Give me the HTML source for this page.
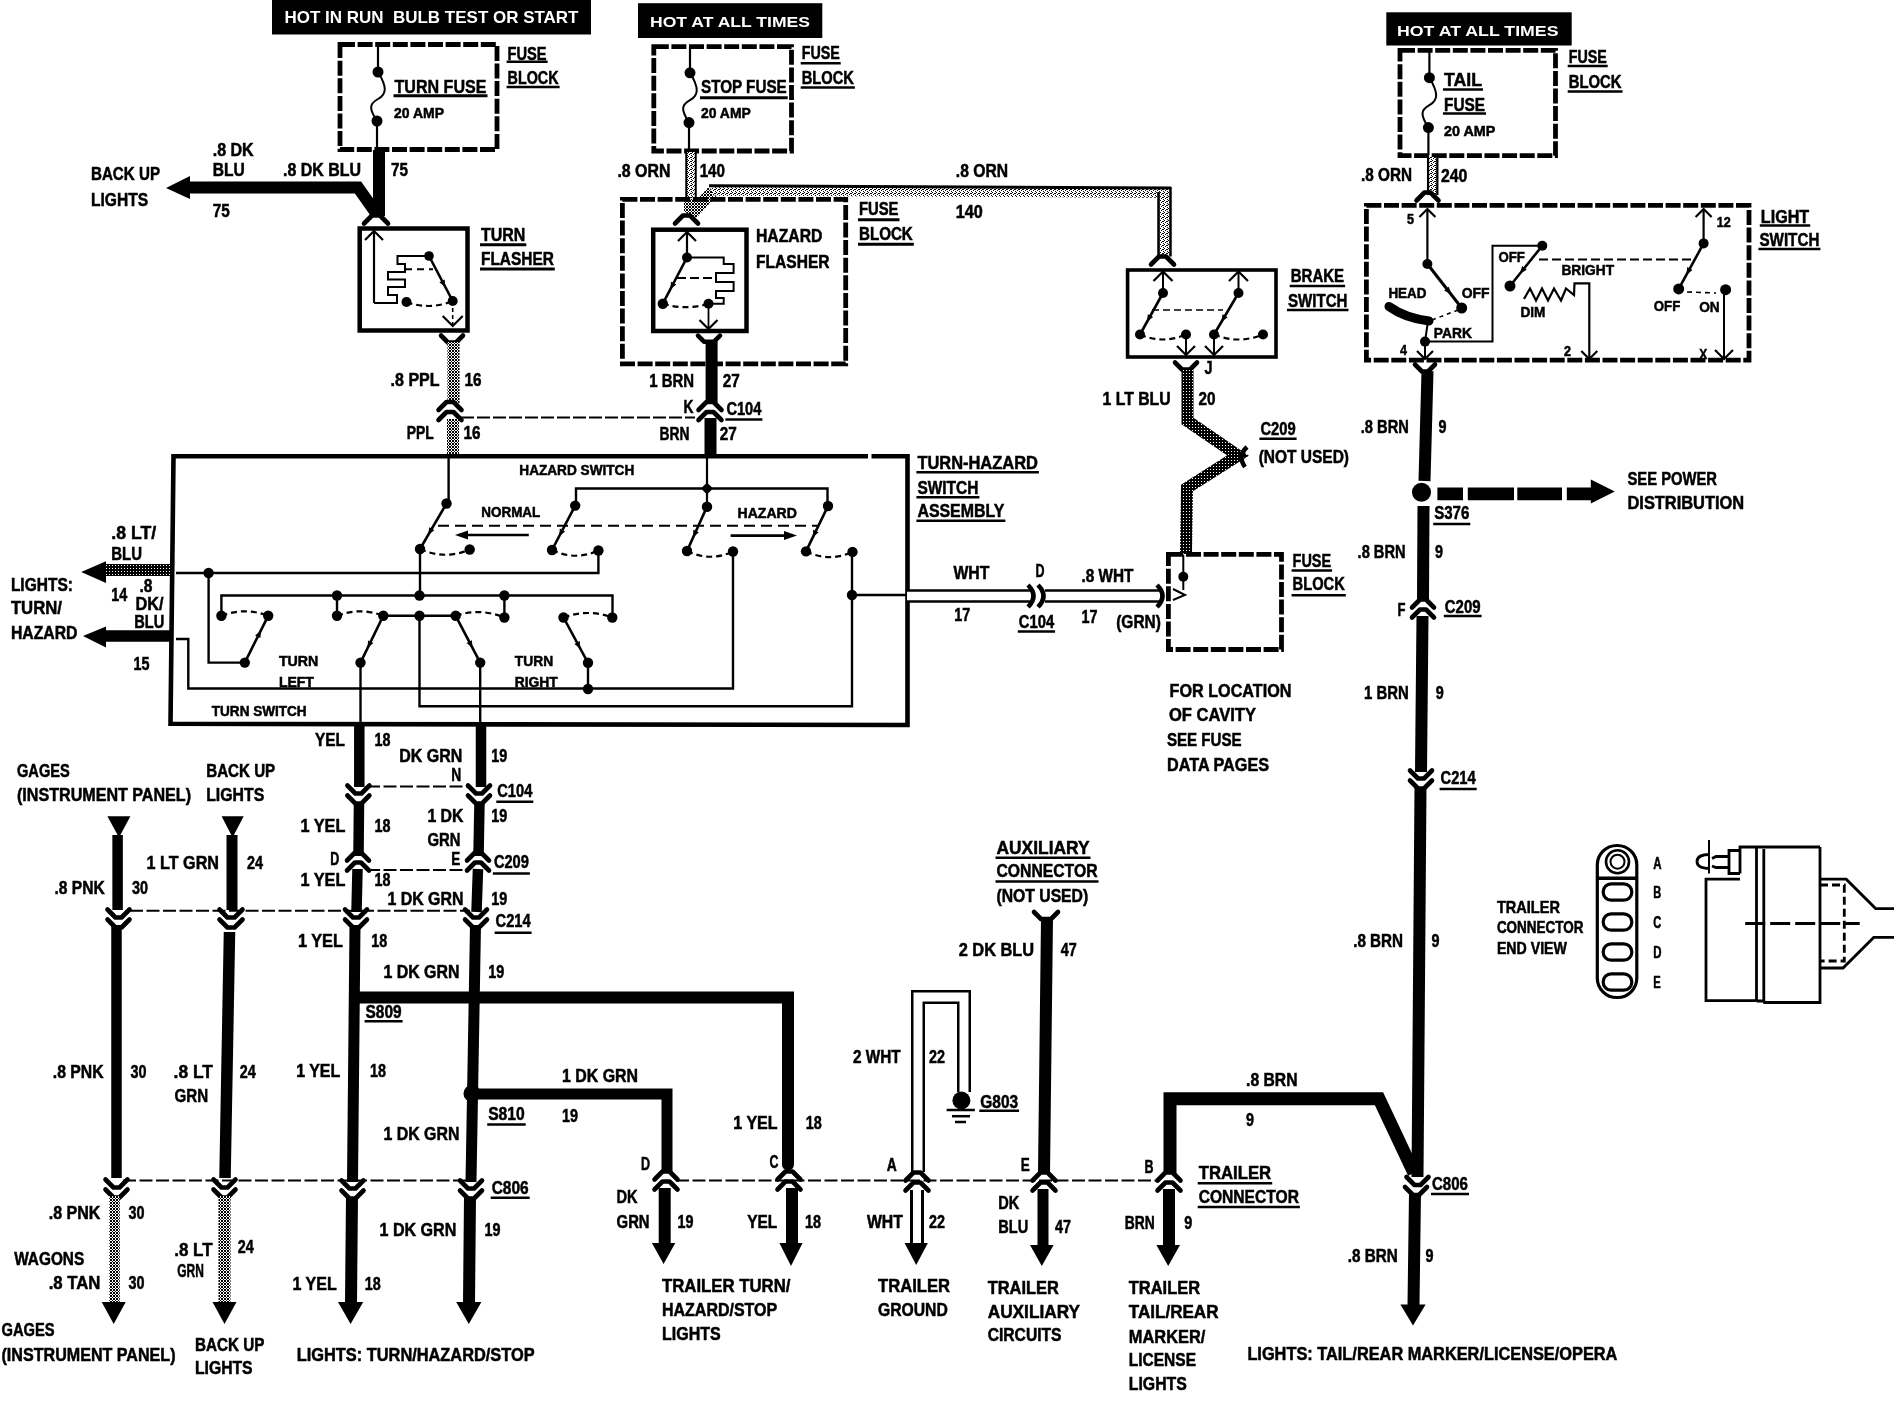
<!DOCTYPE html>
<html><head><meta charset="utf-8"><style>
html,body{margin:0;padding:0;background:#fff;}
svg{display:block;}
text{font-family:"Liberation Sans",sans-serif;font-weight:bold;}
</style></head><body>
<svg style="will-change:transform" width="1896" height="1408" viewBox="0 0 1896 1408">
<defs>
<pattern id="st" width="3" height="3" patternUnits="userSpaceOnUse">
<rect x="0" y="0" width="3" height="3" fill="#fff"/>
<rect x="0" y="0" width="1" height="1" fill="#000"/><rect x="2" y="0" width="1" height="1" fill="#000"/>
<rect x="1" y="1" width="1" height="1" fill="#000"/><rect x="0" y="2" width="1" height="1" fill="#000"/>
<rect x="2" y="2" width="1" height="1" fill="#000"/>
</pattern>
<pattern id="sd" width="3" height="3" patternUnits="userSpaceOnUse">
<rect x="0" y="0" width="3" height="3" fill="#000"/><rect x="1" y="1" width="1" height="1" fill="#fff"/>
</pattern>
<pattern id="sl" width="4" height="4" patternUnits="userSpaceOnUse">
<rect x="0" y="0" width="4" height="4" fill="#fff"/>
<rect x="0" y="0" width="1" height="1" fill="#000"/><rect x="2" y="1" width="1" height="1" fill="#000"/>
<rect x="1" y="2" width="1" height="1" fill="#000"/><rect x="3" y="3" width="1" height="1" fill="#000"/>
<rect x="3" y="1" width="1" height="1" fill="#000"/>
</pattern>
</defs>
<rect width="1896" height="1408" fill="#fff"/>
<rect x="272.0" y="0.0" width="319.0" height="34.5" fill="#000"/>
<text x="284.5" y="23.2" font-size="15.99" textLength="294.0" lengthAdjust="spacingAndGlyphs" fill="#fff" stroke="#fff" stroke-width="0">HOT IN RUN  BULB TEST OR START</text>
<rect x="340.0" y="44.5" width="157.0" height="105.0" fill="none" stroke="#000" stroke-width="4.8" stroke-dasharray="15 2.6"/>
<line x1="378.0" y1="46.0" x2="378.0" y2="72.0" stroke="#000" stroke-width="2.2" stroke-linecap="butt"/>
<circle cx="378.0" cy="72.0" r="5.5" fill="#000"/>
<path d="M378.0,72.0 C387.0,86.7 387.0,94.0 378.0,99.0 S369.0,108.8 377.0,121.0" fill="none" stroke="#000" stroke-width="2" stroke-linecap="butt"/>
<circle cx="377.0" cy="121.0" r="5.5" fill="#000"/>
<line x1="377.0" y1="121.0" x2="377.0" y2="150.0" stroke="#000" stroke-width="2.2" stroke-linecap="butt"/>
<text x="394.5" y="93.0" font-size="18.90" textLength="92.0" lengthAdjust="spacingAndGlyphs" fill="#000" stroke="#000" stroke-width="0.5">TURN FUSE</text>
<line x1="393.5" y1="95.7" x2="487.5" y2="95.7" stroke="#000" stroke-width="3"/>
<text x="394.0" y="117.5" font-size="14.53" textLength="50.0" lengthAdjust="spacingAndGlyphs" fill="#000" stroke="#000" stroke-width="0.5">20 AMP</text>
<text x="507.6" y="59.7" font-size="17.44" textLength="39.0" lengthAdjust="spacingAndGlyphs" fill="#000" stroke="#000" stroke-width="0.5">FUSE</text>
<line x1="506.6" y1="61.8" x2="547.6" y2="61.8" stroke="#000" stroke-width="2.5"/>
<text x="507.6" y="83.5" font-size="17.44" textLength="51.0" lengthAdjust="spacingAndGlyphs" fill="#000" stroke="#000" stroke-width="0.5">BLOCK</text>
<line x1="506.6" y1="87.0" x2="559.6" y2="87.0" stroke="#000" stroke-width="2.5"/>
<polyline points="379.0,150.0 379.0,216.0" fill="none" stroke="#000" stroke-width="12" stroke-linejoin="miter" stroke-linecap="butt"/>
<polyline points="189.0,187.5 358.0,187.5 376.0,213.0" fill="none" stroke="#000" stroke-width="12" stroke-linejoin="miter" stroke-linecap="butt"/>
<polygon points="166.0,188.0 190.0,176.0 190.0,199.0" fill="#000"/>
<text x="91.0" y="180.2" font-size="18.31" textLength="69.0" lengthAdjust="spacingAndGlyphs" fill="#000" stroke="#000" stroke-width="0.5">BACK UP</text>
<text x="91.0" y="205.6" font-size="18.31" textLength="57.0" lengthAdjust="spacingAndGlyphs" fill="#000" stroke="#000" stroke-width="0.5">LIGHTS</text>
<text x="212.7" y="155.7" font-size="17.44" textLength="41.0" lengthAdjust="spacingAndGlyphs" fill="#000" stroke="#000" stroke-width="0.5">.8 DK</text>
<text x="212.7" y="175.5" font-size="17.44" textLength="32.0" lengthAdjust="spacingAndGlyphs" fill="#000" stroke="#000" stroke-width="0.5">BLU</text>
<text x="212.7" y="217.2" font-size="17.44" textLength="17.0" lengthAdjust="spacingAndGlyphs" fill="#000" stroke="#000" stroke-width="0.5">75</text>
<text x="283.0" y="176.0" font-size="17.44" textLength="78.0" lengthAdjust="spacingAndGlyphs" fill="#000" stroke="#000" stroke-width="0.5">.8 DK BLU</text>
<text x="391.0" y="176.0" font-size="17.44" textLength="17.0" lengthAdjust="spacingAndGlyphs" fill="#000" stroke="#000" stroke-width="0.5">75</text>
<polyline points="364.0,223.5 372.0,215.5 380.0,215.5 388.0,223.5" fill="none" stroke="#000" stroke-width="4.6" stroke-linejoin="round" stroke-linecap="round"/>
<rect x="359.7" y="228.5" width="107.8" height="102.0" fill="none" stroke="#000" stroke-width="4.5"/>
<line x1="374.0" y1="303.0" x2="374.0" y2="231.0" stroke="#000" stroke-width="2.2" stroke-linecap="butt"/>
<polyline points="365.0,240.0 374.0,231.0 383.0,240.0" fill="none" stroke="#000" stroke-width="2.2" stroke-linejoin="miter" stroke-linecap="butt"/>
<polyline points="374.0,303.0 397.0,303.0 397.0,295.0 388.0,295.0 388.0,287.0 405.0,287.0 405.0,279.5 388.0,279.5 388.0,272.0 405.0,272.0 405.0,264.0 397.5,264.0 397.5,256.0 429.0,256.0" fill="none" stroke="#000" stroke-width="2" stroke-linejoin="miter" stroke-linecap="butt"/>
<circle cx="429.0" cy="256.0" r="4.8" fill="#000"/>
<line x1="429.0" y1="256.0" x2="452.7" y2="301.0" stroke="#000" stroke-width="2.6" stroke-linecap="butt"/>
<polygon points="445.3,287.0 439.4,282.2 444.7,279.4" fill="#000"/>
<circle cx="452.7" cy="301.0" r="5" fill="#000"/>
<circle cx="406.5" cy="302.0" r="5" fill="#000"/>
<path d="M406.5,302.0 Q429.6,310.5 452.7,301.0" fill="none" stroke="#000" stroke-width="2.2" stroke-linecap="butt" stroke-dasharray="6 4"/>
<line x1="405.0" y1="269.2" x2="433.0" y2="269.2" stroke="#000" stroke-width="2" stroke-linecap="butt" stroke-dasharray="7 5"/>
<line x1="452.7" y1="301.0" x2="452.7" y2="326.0" stroke="#000" stroke-width="1.6" stroke-linecap="butt" stroke-dasharray="4 3"/>
<polyline points="442.7,316.0 452.7,326.0 462.7,316.0" fill="none" stroke="#000" stroke-width="2.2" stroke-linejoin="miter" stroke-linecap="butt"/>
<text x="481.0" y="241.2" font-size="17.44" textLength="44.3" lengthAdjust="spacingAndGlyphs" fill="#000" stroke="#000" stroke-width="0.5">TURN</text>
<line x1="480.0" y1="244.8" x2="526.3" y2="244.8" stroke="#000" stroke-width="3"/>
<text x="481.0" y="265.2" font-size="17.44" textLength="72.8" lengthAdjust="spacingAndGlyphs" fill="#000" stroke="#000" stroke-width="0.5">FLASHER</text>
<line x1="480.0" y1="269.0" x2="554.8" y2="269.0" stroke="#000" stroke-width="3"/>
<polyline points="441.0,335.5 448.0,342.5 456.0,342.5 463.0,335.5" fill="none" stroke="#000" stroke-width="4.6" stroke-linejoin="round" stroke-linecap="round"/>
<polyline points="453.5,342.0 453.5,404.0" fill="none" stroke="url(#st)" stroke-width="12" stroke-linejoin="miter" stroke-linecap="butt"/>
<polyline points="438.5,410.0 446.5,402.0 453.5,402.0 461.5,410.0" fill="none" stroke="#000" stroke-width="4.6" stroke-linejoin="round" stroke-linecap="round"/>
<polyline points="438.5,420.0 446.5,412.0 453.5,412.0 461.5,420.0" fill="none" stroke="#000" stroke-width="4.6" stroke-linejoin="round" stroke-linecap="round"/>
<polyline points="453.0,419.0 453.0,455.0" fill="none" stroke="url(#st)" stroke-width="12" stroke-linejoin="miter" stroke-linecap="butt"/>
<text x="390.6" y="385.5" font-size="17.44" textLength="49.0" lengthAdjust="spacingAndGlyphs" fill="#000" stroke="#000" stroke-width="0.5">.8 PPL</text>
<text x="464.4" y="385.5" font-size="17.44" textLength="17.0" lengthAdjust="spacingAndGlyphs" fill="#000" stroke="#000" stroke-width="0.5">16</text>
<text x="406.8" y="439.2" font-size="17.44" textLength="27.0" lengthAdjust="spacingAndGlyphs" fill="#000" stroke="#000" stroke-width="0.5">PPL</text>
<text x="463.4" y="439.2" font-size="17.44" textLength="17.0" lengthAdjust="spacingAndGlyphs" fill="#000" stroke="#000" stroke-width="0.5">16</text>
<line x1="461.0" y1="417.6" x2="695.0" y2="417.6" stroke="#000" stroke-width="2" stroke-linecap="butt" stroke-dasharray="13 3"/>
<rect x="638.0" y="3.2" width="184.3" height="34.8" fill="#000"/>
<text x="650.0" y="26.5" font-size="14.97" textLength="160.0" lengthAdjust="spacingAndGlyphs" fill="#fff" stroke="#fff" stroke-width="0">HOT AT ALL TIMES</text>
<rect x="653.8" y="46.7" width="137.7" height="104.3" fill="none" stroke="#000" stroke-width="4.8" stroke-dasharray="15 2.6"/>
<line x1="690.0" y1="47.0" x2="690.0" y2="72.8" stroke="#000" stroke-width="2.2" stroke-linecap="butt"/>
<circle cx="690.0" cy="72.8" r="5.5" fill="#000"/>
<path d="M690.0,72.8 C699.0,87.7 699.0,95.2 690.0,100.2 S681.0,110.1 689.0,122.6" fill="none" stroke="#000" stroke-width="2" stroke-linecap="butt"/>
<circle cx="689.0" cy="122.6" r="5.5" fill="#000"/>
<line x1="689.0" y1="122.6" x2="689.0" y2="151.0" stroke="#000" stroke-width="2.2" stroke-linecap="butt"/>
<text x="701.0" y="93.0" font-size="18.90" textLength="85.7" lengthAdjust="spacingAndGlyphs" fill="#000" stroke="#000" stroke-width="0.5">STOP FUSE</text>
<line x1="700.0" y1="97.8" x2="787.7" y2="97.8" stroke="#000" stroke-width="3"/>
<text x="701.0" y="117.5" font-size="14.53" textLength="49.8" lengthAdjust="spacingAndGlyphs" fill="#000" stroke="#000" stroke-width="0.5">20 AMP</text>
<text x="801.7" y="59.4" font-size="17.44" textLength="38.0" lengthAdjust="spacingAndGlyphs" fill="#000" stroke="#000" stroke-width="0.5">FUSE</text>
<line x1="800.7" y1="63.3" x2="840.7" y2="63.3" stroke="#000" stroke-width="2.5"/>
<text x="801.7" y="84.2" font-size="17.44" textLength="52.2" lengthAdjust="spacingAndGlyphs" fill="#000" stroke="#000" stroke-width="0.5">BLOCK</text>
<line x1="800.7" y1="87.5" x2="854.9" y2="87.5" stroke="#000" stroke-width="2.5"/>
<text x="617.4" y="176.8" font-size="17.44" textLength="53.0" lengthAdjust="spacingAndGlyphs" fill="#000" stroke="#000" stroke-width="0.5">.8 ORN</text>
<text x="699.7" y="176.8" font-size="17.44" textLength="25.3" lengthAdjust="spacingAndGlyphs" fill="#000" stroke="#000" stroke-width="0.5">140</text>
<polyline points="691.0,152.0 691.0,200.0" fill="none" stroke="#000" stroke-width="11.5" stroke-linejoin="miter" stroke-linecap="butt"/>
<polyline points="691.0,152.0 691.0,200.0" fill="none" stroke="url(#sl)" stroke-width="7.5" stroke-linejoin="miter" stroke-linecap="butt"/>
<polyline points="690.0,200.0 690.0,212.0" fill="none" stroke="url(#st)" stroke-width="12" stroke-linejoin="miter" stroke-linecap="butt"/>
<polyline points="690.0,216.0 713.0,191.0" fill="none" stroke="url(#st)" stroke-width="12" stroke-linejoin="miter" stroke-linecap="butt"/>
<polyline points="712.0,190.5 1164.5,192.5 1164.5,256.0" fill="none" stroke="url(#sl)" stroke-width="10.5" stroke-linejoin="miter" stroke-linecap="butt"/>
<polyline points="709.0,185.7 1171.0,188.0" fill="none" stroke="#000" stroke-width="3" stroke-linejoin="miter" stroke-linecap="butt"/>
<line x1="1158.5" y1="192.0" x2="1158.5" y2="256.5" stroke="#000" stroke-width="2.5" stroke-linecap="butt"/>
<line x1="1170.5" y1="187.0" x2="1170.5" y2="256.5" stroke="#000" stroke-width="2.5" stroke-linecap="butt"/>
<text x="955.8" y="176.7" font-size="17.44" textLength="52.2" lengthAdjust="spacingAndGlyphs" fill="#000" stroke="#000" stroke-width="0.5">.8 ORN</text>
<text x="955.8" y="217.9" font-size="17.44" textLength="27.0" lengthAdjust="spacingAndGlyphs" fill="#000" stroke="#000" stroke-width="0.5">140</text>
<rect x="622.4" y="199.4" width="223.3" height="164.4" fill="none" stroke="#000" stroke-width="4.8" stroke-dasharray="15 2.6"/>
<text x="859.0" y="215.2" font-size="17.44" textLength="39.5" lengthAdjust="spacingAndGlyphs" fill="#000" stroke="#000" stroke-width="0.5">FUSE</text>
<line x1="858.0" y1="219.8" x2="899.5" y2="219.8" stroke="#000" stroke-width="3"/>
<text x="859.0" y="239.5" font-size="17.44" textLength="53.8" lengthAdjust="spacingAndGlyphs" fill="#000" stroke="#000" stroke-width="0.5">BLOCK</text>
<line x1="858.0" y1="244.2" x2="913.8" y2="244.2" stroke="#000" stroke-width="3"/>
<polyline points="675.0,223.5 683.0,215.5 690.0,215.5 698.0,223.5" fill="none" stroke="#000" stroke-width="4.6" stroke-linejoin="round" stroke-linecap="round"/>
<rect x="653.2" y="229.7" width="93.3" height="101.3" fill="none" stroke="#000" stroke-width="4.5"/>
<line x1="687.0" y1="257.0" x2="687.0" y2="232.0" stroke="#000" stroke-width="2.2" stroke-linecap="butt"/>
<polyline points="678.0,241.0 687.0,232.0 696.0,241.0" fill="none" stroke="#000" stroke-width="2.2" stroke-linejoin="miter" stroke-linecap="butt"/>
<circle cx="687.0" cy="257.5" r="5" fill="#000"/>
<line x1="687.0" y1="257.5" x2="662.8" y2="303.7" stroke="#000" stroke-width="2.6" stroke-linecap="butt"/>
<polygon points="670.4,289.2 671.0,281.7 676.3,284.4" fill="#000"/>
<circle cx="662.8" cy="303.7" r="5.2" fill="#000"/>
<circle cx="708.5" cy="303.7" r="5" fill="#000"/>
<polyline points="687.0,257.5 723.7,257.5 723.7,264.0 733.6,264.0 733.6,273.0 716.0,273.0 716.0,282.0 733.6,282.0 733.6,291.0 716.0,291.0 716.0,298.0 723.7,298.0 723.7,303.7 708.5,303.7" fill="none" stroke="#000" stroke-width="2" stroke-linejoin="miter" stroke-linecap="butt"/>
<line x1="677.0" y1="278.0" x2="714.8" y2="278.0" stroke="#000" stroke-width="1.8" stroke-linecap="butt" stroke-dasharray="9 4"/>
<path d="M662.8,303.7 Q685.6,310.7 708.5,303.7" fill="none" stroke="#000" stroke-width="2.2" stroke-linecap="butt" stroke-dasharray="6 4"/>
<line x1="708.5" y1="303.7" x2="708.5" y2="329.0" stroke="#000" stroke-width="1.8" stroke-linecap="butt"/>
<polyline points="699.5,320.0 708.5,329.0 717.5,320.0" fill="none" stroke="#000" stroke-width="2.2" stroke-linejoin="miter" stroke-linecap="butt"/>
<text x="756.0" y="242.2" font-size="17.44" textLength="66.4" lengthAdjust="spacingAndGlyphs" fill="#000" stroke="#000" stroke-width="0.5">HAZARD</text>
<text x="756.0" y="268.2" font-size="17.44" textLength="73.5" lengthAdjust="spacingAndGlyphs" fill="#000" stroke="#000" stroke-width="0.5">FLASHER</text>
<polyline points="698.0,335.7 704.0,341.7 714.0,341.7 720.0,335.7" fill="none" stroke="#000" stroke-width="4.6" stroke-linejoin="round" stroke-linecap="round"/>
<polyline points="711.6,340.0 711.6,404.0" fill="none" stroke="#000" stroke-width="12" stroke-linejoin="miter" stroke-linecap="butt"/>
<polyline points="698.5,410.0 706.5,402.0 713.5,402.0 721.5,410.0" fill="none" stroke="#000" stroke-width="4.6" stroke-linejoin="round" stroke-linecap="round"/>
<polyline points="698.5,420.0 706.5,412.0 713.5,412.0 721.5,420.0" fill="none" stroke="#000" stroke-width="4.6" stroke-linejoin="round" stroke-linecap="round"/>
<polyline points="710.5,418.0 710.5,456.0" fill="none" stroke="#000" stroke-width="12" stroke-linejoin="miter" stroke-linecap="butt"/>
<text x="649.3" y="387.4" font-size="17.44" textLength="44.8" lengthAdjust="spacingAndGlyphs" fill="#000" stroke="#000" stroke-width="0.5">1 BRN</text>
<text x="722.8" y="387.4" font-size="17.44" textLength="17.0" lengthAdjust="spacingAndGlyphs" fill="#000" stroke="#000" stroke-width="0.5">27</text>
<text x="683.4" y="412.5" font-size="17.44" textLength="10.0" lengthAdjust="spacingAndGlyphs" fill="#000" stroke="#000" stroke-width="0.5">K</text>
<text x="726.4" y="415.2" font-size="17.44" textLength="35.0" lengthAdjust="spacingAndGlyphs" fill="#000" stroke="#000" stroke-width="0.5">C104</text>
<line x1="725.4" y1="419.4" x2="762.4" y2="419.4" stroke="#000" stroke-width="2.5"/>
<text x="659.6" y="440.4" font-size="17.44" textLength="30.0" lengthAdjust="spacingAndGlyphs" fill="#000" stroke="#000" stroke-width="0.5">BRN</text>
<text x="719.7" y="440.4" font-size="17.44" textLength="17.0" lengthAdjust="spacingAndGlyphs" fill="#000" stroke="#000" stroke-width="0.5">27</text>
<polyline points="1151.0,264.5 1159.0,256.5 1166.0,256.5 1174.0,264.5" fill="none" stroke="#000" stroke-width="4.6" stroke-linejoin="round" stroke-linecap="round"/>
<rect x="1127.6" y="270.0" width="148.4" height="87.0" fill="none" stroke="#000" stroke-width="3.6"/>
<line x1="1163.0" y1="293.0" x2="1163.0" y2="271.5" stroke="#000" stroke-width="2" stroke-linecap="butt"/>
<polyline points="1153.5,281.0 1163.0,271.5 1172.5,281.0" fill="none" stroke="#000" stroke-width="2.2" stroke-linejoin="miter" stroke-linecap="butt"/>
<circle cx="1163.0" cy="293.0" r="5" fill="#000"/>
<line x1="1238.5" y1="293.0" x2="1238.5" y2="271.5" stroke="#000" stroke-width="2" stroke-linecap="butt"/>
<polyline points="1229.0,281.0 1238.5,271.5 1248.0,281.0" fill="none" stroke="#000" stroke-width="2.2" stroke-linejoin="miter" stroke-linecap="butt"/>
<circle cx="1238.5" cy="293.0" r="5" fill="#000"/>
<line x1="1163.0" y1="293.0" x2="1140.0" y2="334.5" stroke="#000" stroke-width="2.6" stroke-linecap="butt"/>
<polygon points="1147.0,321.8 1147.8,314.2 1153.1,317.1" fill="#000"/>
<line x1="1238.5" y1="293.0" x2="1214.0" y2="334.5" stroke="#000" stroke-width="2.6" stroke-linecap="butt"/>
<polygon points="1221.5,321.7 1222.5,314.2 1227.7,317.2" fill="#000"/>
<circle cx="1140.0" cy="334.5" r="5" fill="#000"/>
<circle cx="1186.0" cy="334.5" r="5" fill="#000"/>
<circle cx="1214.0" cy="334.5" r="5" fill="#000"/>
<circle cx="1263.0" cy="334.5" r="5" fill="#000"/>
<path d="M1140.0,334.5 Q1163.0,344.5 1186.0,334.5" fill="none" stroke="#000" stroke-width="2.2" stroke-linecap="butt" stroke-dasharray="6 4"/>
<path d="M1214.0,334.5 Q1238.5,344.5 1263.0,334.5" fill="none" stroke="#000" stroke-width="2.2" stroke-linecap="butt" stroke-dasharray="6 4"/>
<line x1="1152.0" y1="310.0" x2="1223.0" y2="310.0" stroke="#000" stroke-width="1.6" stroke-linecap="butt" stroke-dasharray="7 4"/>
<line x1="1186.0" y1="334.5" x2="1186.0" y2="355.0" stroke="#000" stroke-width="2" stroke-linecap="butt"/>
<polyline points="1177.0,346.0 1186.0,355.0 1195.0,346.0" fill="none" stroke="#000" stroke-width="2.2" stroke-linejoin="miter" stroke-linecap="butt"/>
<line x1="1214.0" y1="334.5" x2="1214.0" y2="355.0" stroke="#000" stroke-width="2" stroke-linecap="butt"/>
<polyline points="1205.0,346.0 1214.0,355.0 1223.0,346.0" fill="none" stroke="#000" stroke-width="2.2" stroke-linejoin="miter" stroke-linecap="butt"/>
<text x="1290.7" y="282.2" font-size="17.44" textLength="53.4" lengthAdjust="spacingAndGlyphs" fill="#000" stroke="#000" stroke-width="0.5">BRAKE</text>
<line x1="1289.7" y1="286.0" x2="1345.1" y2="286.0" stroke="#000" stroke-width="2.5"/>
<text x="1288.0" y="306.5" font-size="17.44" textLength="59.5" lengthAdjust="spacingAndGlyphs" fill="#000" stroke="#000" stroke-width="0.5">SWITCH</text>
<line x1="1287.0" y1="310.0" x2="1348.5" y2="310.0" stroke="#000" stroke-width="2.5"/>
<polyline points="1175.0,362.5 1182.0,369.5 1190.0,369.5 1197.0,362.5" fill="none" stroke="#000" stroke-width="4.6" stroke-linejoin="round" stroke-linecap="round"/>
<text x="1204.6" y="374.2" font-size="17.44" textLength="8.0" lengthAdjust="spacingAndGlyphs" fill="#000" stroke="#000" stroke-width="0.5">J</text>
<polyline points="1187.5,370.0 1187.5,421.0 1238.0,455.5 1187.0,488.0 1186.0,554.0" fill="none" stroke="url(#sd)" stroke-width="12" stroke-linejoin="miter" stroke-linecap="butt"/>
<path d="M1247,447 Q1237,456 1245,467" fill="none" stroke="#000" stroke-width="4.5" stroke-linecap="butt"/>
<text x="1102.6" y="404.8" font-size="17.44" textLength="68.0" lengthAdjust="spacingAndGlyphs" fill="#000" stroke="#000" stroke-width="0.5">1 LT BLU</text>
<text x="1198.5" y="404.8" font-size="17.44" textLength="17.0" lengthAdjust="spacingAndGlyphs" fill="#000" stroke="#000" stroke-width="0.5">20</text>
<text x="1260.4" y="435.2" font-size="17.44" textLength="35.2" lengthAdjust="spacingAndGlyphs" fill="#000" stroke="#000" stroke-width="0.5">C209</text>
<line x1="1259.4" y1="438.8" x2="1296.6" y2="438.8" stroke="#000" stroke-width="2.5"/>
<text x="1258.7" y="463.1" font-size="17.44" textLength="90.3" lengthAdjust="spacingAndGlyphs" fill="#000" stroke="#000" stroke-width="0.5">(NOT USED)</text>
<rect x="1386.3" y="12.3" width="185.4" height="33.2" fill="#000"/>
<text x="1397.0" y="36.4" font-size="14.97" textLength="161.5" lengthAdjust="spacingAndGlyphs" fill="#fff" stroke="#fff" stroke-width="0">HOT AT ALL TIMES</text>
<rect x="1400.0" y="50.4" width="155.5" height="105.3" fill="none" stroke="#000" stroke-width="4.8" stroke-dasharray="15 2.6"/>
<line x1="1429.4" y1="51.0" x2="1429.4" y2="77.7" stroke="#000" stroke-width="2.2" stroke-linecap="butt"/>
<circle cx="1429.4" cy="77.7" r="5.5" fill="#000"/>
<path d="M1429.4,77.7 C1438.4,92.7 1438.4,100.2 1429.4,105.1 S1420.4,115.1 1428.4,127.6" fill="none" stroke="#000" stroke-width="2" stroke-linecap="butt"/>
<circle cx="1428.4" cy="127.6" r="5.5" fill="#000"/>
<line x1="1428.4" y1="127.6" x2="1428.4" y2="155.0" stroke="#000" stroke-width="2.2" stroke-linecap="butt"/>
<text x="1444.0" y="86.2" font-size="17.44" textLength="38.0" lengthAdjust="spacingAndGlyphs" fill="#000" stroke="#000" stroke-width="0.5">TAIL</text>
<line x1="1443.0" y1="89.4" x2="1483.0" y2="89.4" stroke="#000" stroke-width="2.5"/>
<text x="1444.0" y="111.2" font-size="17.44" textLength="41.0" lengthAdjust="spacingAndGlyphs" fill="#000" stroke="#000" stroke-width="0.5">FUSE</text>
<line x1="1443.0" y1="113.5" x2="1486.0" y2="113.5" stroke="#000" stroke-width="2.5"/>
<text x="1444.0" y="136.1" font-size="14.53" textLength="51.3" lengthAdjust="spacingAndGlyphs" fill="#000" stroke="#000" stroke-width="0.5">20 AMP</text>
<text x="1568.7" y="63.4" font-size="17.44" textLength="38.0" lengthAdjust="spacingAndGlyphs" fill="#000" stroke="#000" stroke-width="0.5">FUSE</text>
<line x1="1567.7" y1="66.0" x2="1607.7" y2="66.0" stroke="#000" stroke-width="2.5"/>
<text x="1568.7" y="87.7" font-size="17.44" textLength="52.8" lengthAdjust="spacingAndGlyphs" fill="#000" stroke="#000" stroke-width="0.5">BLOCK</text>
<line x1="1567.7" y1="91.5" x2="1622.5" y2="91.5" stroke="#000" stroke-width="2.5"/>
<polyline points="1432.7,157.0 1432.7,195.0" fill="none" stroke="#000" stroke-width="11.5" stroke-linejoin="miter" stroke-linecap="butt"/>
<polyline points="1432.7,157.0 1432.7,195.0" fill="none" stroke="url(#sl)" stroke-width="7.0" stroke-linejoin="miter" stroke-linecap="butt"/>
<polyline points="1416.5,200.5 1424.5,192.5 1430.5,192.5 1438.5,200.5" fill="none" stroke="#000" stroke-width="4.6" stroke-linejoin="round" stroke-linecap="round"/>
<text x="1361.0" y="180.6" font-size="18.31" textLength="51.0" lengthAdjust="spacingAndGlyphs" fill="#000" stroke="#000" stroke-width="0.5">.8 ORN</text>
<text x="1441.0" y="181.6" font-size="17.44" textLength="26.4" lengthAdjust="spacingAndGlyphs" fill="#000" stroke="#000" stroke-width="0.5">240</text>
<rect x="1366.4" y="205.4" width="382.6" height="154.7" fill="none" stroke="#000" stroke-width="4.8" stroke-dasharray="15 2.6"/>
<text x="1760.8" y="222.6" font-size="17.44" textLength="48.4" lengthAdjust="spacingAndGlyphs" fill="#000" stroke="#000" stroke-width="0.5">LIGHT</text>
<line x1="1759.8" y1="225.5" x2="1810.2" y2="225.5" stroke="#000" stroke-width="2.5"/>
<text x="1759.4" y="246.1" font-size="17.44" textLength="60.0" lengthAdjust="spacingAndGlyphs" fill="#000" stroke="#000" stroke-width="0.5">SWITCH</text>
<line x1="1758.4" y1="249.0" x2="1820.4" y2="249.0" stroke="#000" stroke-width="2.5"/>
<text x="1406.9" y="224.0" font-size="14.53" textLength="7.0" lengthAdjust="spacingAndGlyphs" fill="#000" stroke="#000" stroke-width="0.5">5</text>
<line x1="1427.4" y1="264.0" x2="1427.4" y2="209.0" stroke="#000" stroke-width="2.2" stroke-linecap="butt"/>
<polyline points="1419.4,217.0 1427.4,209.0 1435.4,217.0" fill="none" stroke="#000" stroke-width="2.2" stroke-linejoin="miter" stroke-linecap="butt"/>
<circle cx="1427.4" cy="264.0" r="5" fill="#000"/>
<line x1="1427.4" y1="264.0" x2="1461.7" y2="308.0" stroke="#000" stroke-width="3" stroke-linecap="butt"/>
<polygon points="1450.8,294.0 1444.1,290.4 1448.9,286.7" fill="#000"/>
<circle cx="1461.7" cy="308.0" r="5.5" fill="#000"/>
<text x="1461.7" y="298.3" font-size="14.53" textLength="27.9" lengthAdjust="spacingAndGlyphs" fill="#000" stroke="#000" stroke-width="0.5">OFF</text>
<text x="1388.4" y="297.5" font-size="14.53" textLength="38.0" lengthAdjust="spacingAndGlyphs" fill="#000" stroke="#000" stroke-width="0.5">HEAD</text>
<path d="M1389,306.5 Q1405,318 1429,321" fill="none" stroke="#000" stroke-width="9" stroke-linecap="round"/>
<line x1="1432.0" y1="320.0" x2="1458.0" y2="310.0" stroke="#000" stroke-width="1.6" stroke-linecap="butt" stroke-dasharray="4 4"/>
<line x1="1428.0" y1="321.0" x2="1425.0" y2="341.6" stroke="#000" stroke-width="2" stroke-linecap="butt"/>
<circle cx="1425.0" cy="341.6" r="5" fill="#000"/>
<text x="1433.8" y="338.4" font-size="14.53" textLength="38.1" lengthAdjust="spacingAndGlyphs" fill="#000" stroke="#000" stroke-width="0.5">PARK</text>
<line x1="1425.0" y1="341.6" x2="1425.0" y2="359.0" stroke="#000" stroke-width="2" stroke-linecap="butt"/>
<polyline points="1417.0,351.0 1425.0,359.0 1433.0,351.0" fill="none" stroke="#000" stroke-width="2.2" stroke-linejoin="miter" stroke-linecap="butt"/>
<text x="1400.0" y="354.6" font-size="14.53" textLength="7.0" lengthAdjust="spacingAndGlyphs" fill="#000" stroke="#000" stroke-width="0.5">4</text>
<polyline points="1425.0,341.6 1492.5,341.6 1492.5,245.7 1542.3,245.7" fill="none" stroke="#000" stroke-width="2" stroke-linejoin="miter" stroke-linecap="butt"/>
<circle cx="1542.3" cy="245.7" r="5" fill="#000"/>
<line x1="1542.3" y1="245.7" x2="1510.0" y2="286.0" stroke="#000" stroke-width="2.6" stroke-linecap="butt"/>
<polygon points="1520.1,273.4 1522.1,266.1 1526.8,269.8" fill="#000"/>
<circle cx="1510.0" cy="286.0" r="5.5" fill="#000"/>
<text x="1498.4" y="262.2" font-size="14.53" textLength="26.4" lengthAdjust="spacingAndGlyphs" fill="#000" stroke="#000" stroke-width="0.5">OFF</text>
<text x="1561.4" y="275.4" font-size="14.53" textLength="52.8" lengthAdjust="spacingAndGlyphs" fill="#000" stroke="#000" stroke-width="0.5">BRIGHT</text>
<polyline points="1524.0,299.0 1530.0,288.5 1536.0,300.5 1542.0,288.5 1548.0,300.5 1554.0,288.5 1561.0,300.5 1566.0,288.5 1574.0,295.0 1574.5,283.3 1589.3,283.3 1589.3,359.0" fill="none" stroke="#000" stroke-width="2.2" stroke-linejoin="miter" stroke-linecap="butt"/>
<polyline points="1581.3,351.0 1589.3,359.0 1597.3,351.0" fill="none" stroke="#000" stroke-width="2.2" stroke-linejoin="miter" stroke-linecap="butt"/>
<text x="1520.4" y="316.6" font-size="14.53" textLength="25.0" lengthAdjust="spacingAndGlyphs" fill="#000" stroke="#000" stroke-width="0.5">DIM</text>
<text x="1564.0" y="356.0" font-size="14.53" textLength="7.0" lengthAdjust="spacingAndGlyphs" fill="#000" stroke="#000" stroke-width="0.5">2</text>
<line x1="1539.0" y1="259.5" x2="1694.8" y2="259.5" stroke="#000" stroke-width="1.8" stroke-linecap="butt" stroke-dasharray="9 4"/>
<text x="1716.8" y="227.0" font-size="14.53" textLength="14.0" lengthAdjust="spacingAndGlyphs" fill="#000" stroke="#000" stroke-width="0.5">12</text>
<line x1="1703.6" y1="243.4" x2="1703.6" y2="209.0" stroke="#000" stroke-width="2.2" stroke-linecap="butt"/>
<polyline points="1695.6,217.0 1703.6,209.0 1711.6,217.0" fill="none" stroke="#000" stroke-width="2.2" stroke-linejoin="miter" stroke-linecap="butt"/>
<circle cx="1703.6" cy="243.4" r="5" fill="#000"/>
<line x1="1703.6" y1="243.4" x2="1678.7" y2="288.9" stroke="#000" stroke-width="2.6" stroke-linecap="butt"/>
<polygon points="1686.5,274.7 1687.2,267.1 1692.5,270.0" fill="#000"/>
<circle cx="1678.7" cy="288.9" r="5.5" fill="#000"/>
<line x1="1687.0" y1="292.0" x2="1716.0" y2="293.0" stroke="#000" stroke-width="1.6" stroke-linecap="butt" stroke-dasharray="5 4"/>
<circle cx="1725.6" cy="289.7" r="5.5" fill="#000"/>
<line x1="1724.0" y1="289.7" x2="1724.0" y2="359.0" stroke="#000" stroke-width="2" stroke-linecap="butt"/>
<polyline points="1715.0,350.0 1724.0,359.0 1733.0,350.0" fill="none" stroke="#000" stroke-width="2.2" stroke-linejoin="miter" stroke-linecap="butt"/>
<text x="1653.8" y="310.6" font-size="14.53" textLength="26.4" lengthAdjust="spacingAndGlyphs" fill="#000" stroke="#000" stroke-width="0.5">OFF</text>
<text x="1699.2" y="312.1" font-size="14.53" textLength="20.5" lengthAdjust="spacingAndGlyphs" fill="#000" stroke="#000" stroke-width="0.5">ON</text>
<text x="1699.2" y="359.0" font-size="14.53" textLength="8.0" lengthAdjust="spacingAndGlyphs" fill="#000" stroke="#000" stroke-width="0.5">X</text>
<polyline points="1415.0,364.5 1422.0,371.5 1428.0,371.5 1435.0,364.5" fill="none" stroke="#000" stroke-width="4.6" stroke-linejoin="round" stroke-linecap="round"/>
<polyline points="1427.5,371.0 1424.5,481.0" fill="none" stroke="#000" stroke-width="12" stroke-linejoin="miter" stroke-linecap="butt"/>
<circle cx="1421.5" cy="492.2" r="9.5" fill="#000"/>
<polyline points="1423.5,506.0 1423.0,600.0" fill="none" stroke="#000" stroke-width="12" stroke-linejoin="miter" stroke-linecap="butt"/>
<polyline points="1412.0,607.5 1420.0,599.5 1426.0,599.5 1434.0,607.5" fill="none" stroke="#000" stroke-width="4.6" stroke-linejoin="round" stroke-linecap="round"/>
<polyline points="1412.0,617.5 1420.0,609.5 1426.0,609.5 1434.0,617.5" fill="none" stroke="#000" stroke-width="4.6" stroke-linejoin="round" stroke-linecap="round"/>
<polyline points="1422.5,616.0 1421.0,772.0" fill="none" stroke="#000" stroke-width="12" stroke-linejoin="miter" stroke-linecap="butt"/>
<polyline points="1410.0,770.5 1418.0,778.5 1424.0,778.5 1432.0,770.5" fill="none" stroke="#000" stroke-width="4.6" stroke-linejoin="round" stroke-linecap="round"/>
<polyline points="1410.0,780.5 1418.0,788.5 1424.0,788.5 1432.0,780.5" fill="none" stroke="#000" stroke-width="4.6" stroke-linejoin="round" stroke-linecap="round"/>
<polyline points="1420.5,787.0 1417.5,1177.0" fill="none" stroke="#000" stroke-width="12" stroke-linejoin="miter" stroke-linecap="butt"/>
<polyline points="1437.4,493.8 1591.0,493.8" fill="none" stroke="#000" stroke-width="12.8" stroke-linejoin="miter" stroke-linecap="butt"/>
<rect x="1463.0" y="486.0" width="4.8" height="16.0" fill="#fff"/>
<rect x="1514.0" y="486.0" width="3.3" height="16.0" fill="#fff"/>
<rect x="1562.0" y="486.0" width="4.8" height="16.0" fill="#fff"/>
<polygon points="1590.8,479.4 1614.8,491.4 1590.8,503.4" fill="#000"/>
<text x="1627.5" y="485.4" font-size="17.44" textLength="89.5" lengthAdjust="spacingAndGlyphs" fill="#000" stroke="#000" stroke-width="0.5">SEE POWER</text>
<text x="1627.5" y="509.3" font-size="17.44" textLength="116.6" lengthAdjust="spacingAndGlyphs" fill="#000" stroke="#000" stroke-width="0.5">DISTRIBUTION</text>
<text x="1434.2" y="518.9" font-size="17.44" textLength="35.1" lengthAdjust="spacingAndGlyphs" fill="#000" stroke="#000" stroke-width="0.5">S376</text>
<line x1="1433.2" y1="524.1" x2="1470.3" y2="524.1" stroke="#000" stroke-width="2.5"/>
<text x="1360.8" y="432.7" font-size="17.44" textLength="48.0" lengthAdjust="spacingAndGlyphs" fill="#000" stroke="#000" stroke-width="0.5">.8 BRN</text>
<text x="1438.4" y="432.7" font-size="17.44" textLength="8.0" lengthAdjust="spacingAndGlyphs" fill="#000" stroke="#000" stroke-width="0.5">9</text>
<text x="1357.6" y="558.2" font-size="17.44" textLength="48.0" lengthAdjust="spacingAndGlyphs" fill="#000" stroke="#000" stroke-width="0.5">.8 BRN</text>
<text x="1435.0" y="558.2" font-size="17.44" textLength="8.0" lengthAdjust="spacingAndGlyphs" fill="#000" stroke="#000" stroke-width="0.5">9</text>
<text x="1397.5" y="615.7" font-size="17.44" textLength="8.0" lengthAdjust="spacingAndGlyphs" fill="#000" stroke="#000" stroke-width="0.5">F</text>
<text x="1444.8" y="612.5" font-size="17.44" textLength="35.8" lengthAdjust="spacingAndGlyphs" fill="#000" stroke="#000" stroke-width="0.5">C209</text>
<line x1="1443.8" y1="616.0" x2="1481.6" y2="616.0" stroke="#000" stroke-width="2.5"/>
<text x="1364.0" y="698.8" font-size="17.44" textLength="44.7" lengthAdjust="spacingAndGlyphs" fill="#000" stroke="#000" stroke-width="0.5">1 BRN</text>
<text x="1435.8" y="698.8" font-size="17.44" textLength="8.0" lengthAdjust="spacingAndGlyphs" fill="#000" stroke="#000" stroke-width="0.5">9</text>
<text x="1440.6" y="784.2" font-size="17.44" textLength="35.1" lengthAdjust="spacingAndGlyphs" fill="#000" stroke="#000" stroke-width="0.5">C214</text>
<line x1="1439.6" y1="789.0" x2="1476.7" y2="789.0" stroke="#000" stroke-width="2.5"/>
<text x="1353.2" y="946.9" font-size="17.44" textLength="49.9" lengthAdjust="spacingAndGlyphs" fill="#000" stroke="#000" stroke-width="0.5">.8 BRN</text>
<text x="1431.5" y="946.9" font-size="17.44" textLength="8.0" lengthAdjust="spacingAndGlyphs" fill="#000" stroke="#000" stroke-width="0.5">9</text>
<path d="M173.5,456.3 L907.5,456.3 L907.5,725 L170.5,723.8 Z" fill="none" stroke="#000" stroke-width="4.6" stroke-linecap="butt"/>
<rect x="868.0" y="452.0" width="3.5" height="7.0" fill="#fff"/>
<text x="917.4" y="468.5" font-size="17.44" textLength="120.5" lengthAdjust="spacingAndGlyphs" fill="#000" stroke="#000" stroke-width="0.5">TURN-HAZARD</text>
<line x1="916.4" y1="472.3" x2="1038.9" y2="472.3" stroke="#000" stroke-width="2.5"/>
<text x="917.4" y="493.9" font-size="17.44" textLength="61.0" lengthAdjust="spacingAndGlyphs" fill="#000" stroke="#000" stroke-width="0.5">SWITCH</text>
<line x1="916.4" y1="497.2" x2="979.4" y2="497.2" stroke="#000" stroke-width="2.5"/>
<text x="917.4" y="517.0" font-size="17.44" textLength="87.0" lengthAdjust="spacingAndGlyphs" fill="#000" stroke="#000" stroke-width="0.5">ASSEMBLY</text>
<line x1="916.4" y1="520.8" x2="1005.4" y2="520.8" stroke="#000" stroke-width="2.5"/>
<text x="519.3" y="475.2" font-size="13.81" textLength="115.0" lengthAdjust="spacingAndGlyphs" fill="#000" stroke="#000" stroke-width="0.5">HAZARD SWITCH</text>
<line x1="448.6" y1="458.0" x2="448.6" y2="503.5" stroke="#000" stroke-width="2.4" stroke-linecap="butt"/>
<line x1="707.0" y1="458.0" x2="707.0" y2="506.0" stroke="#000" stroke-width="2.2" stroke-linecap="butt"/>
<polyline points="576.0,505.0 576.0,488.5 827.5,488.5 827.5,506.0" fill="none" stroke="#000" stroke-width="2.4" stroke-linejoin="miter" stroke-linecap="butt"/>
<polygon points="707.0,482.5 713.0,488.5 707.0,494.5 701.0,488.5" fill="#000"/>
<circle cx="446.5" cy="503.5" r="5.2" fill="#000"/>
<line x1="446.5" y1="503.5" x2="420.0" y2="549.0" stroke="#000" stroke-width="2.6" stroke-linecap="butt"/>
<polygon points="428.3,534.7 429.2,527.2 434.4,530.2" fill="#000"/>
<circle cx="420.0" cy="549.0" r="5.2" fill="#000"/>
<circle cx="469.7" cy="549.5" r="5.2" fill="#000"/>
<path d="M420.0,549.0 Q444.9,560.2 469.7,549.5" fill="none" stroke="#000" stroke-width="2.2" stroke-linecap="butt" stroke-dasharray="6 4"/>
<circle cx="575.2" cy="505.6" r="5.2" fill="#000"/>
<line x1="575.2" y1="505.6" x2="552.0" y2="550.0" stroke="#000" stroke-width="2.6" stroke-linecap="butt"/>
<polygon points="559.2,536.2 559.8,528.6 565.1,531.4" fill="#000"/>
<circle cx="552.0" cy="550.0" r="5.2" fill="#000"/>
<circle cx="598.4" cy="550.5" r="5.2" fill="#000"/>
<path d="M552.0,550.0 Q575.2,561.2 598.4,550.5" fill="none" stroke="#000" stroke-width="2.2" stroke-linecap="butt" stroke-dasharray="6 4"/>
<circle cx="707.0" cy="506.7" r="5.2" fill="#000"/>
<line x1="707.0" y1="506.7" x2="687.0" y2="551.0" stroke="#000" stroke-width="2.6" stroke-linecap="butt"/>
<polygon points="693.2,537.4 693.3,529.7 698.8,532.2" fill="#000"/>
<circle cx="687.0" cy="551.0" r="5.2" fill="#000"/>
<circle cx="733.0" cy="551.5" r="5.2" fill="#000"/>
<path d="M687.0,551.0 Q710.0,562.2 733.0,551.5" fill="none" stroke="#000" stroke-width="2.2" stroke-linecap="butt" stroke-dasharray="6 4"/>
<circle cx="828.0" cy="506.0" r="5.2" fill="#000"/>
<line x1="828.0" y1="506.0" x2="806.0" y2="551.4" stroke="#000" stroke-width="2.6" stroke-linecap="butt"/>
<polygon points="812.8,537.3 813.2,529.7 818.6,532.3" fill="#000"/>
<circle cx="806.0" cy="551.4" r="5.2" fill="#000"/>
<circle cx="852.5" cy="551.9" r="5.2" fill="#000"/>
<path d="M806.0,551.4 Q829.2,562.6 852.5,551.9" fill="none" stroke="#000" stroke-width="2.2" stroke-linecap="butt" stroke-dasharray="6 4"/>
<line x1="438.0" y1="525.8" x2="818.0" y2="525.8" stroke="#000" stroke-width="2" stroke-linecap="butt" stroke-dasharray="11 6"/>
<text x="481.3" y="517.4" font-size="13.81" textLength="59.0" lengthAdjust="spacingAndGlyphs" fill="#000" stroke="#000" stroke-width="0.5">NORMAL</text>
<text x="737.6" y="517.8" font-size="13.81" textLength="59.2" lengthAdjust="spacingAndGlyphs" fill="#000" stroke="#000" stroke-width="0.5">HAZARD</text>
<line x1="528.8" y1="535.0" x2="462.0" y2="535.0" stroke="#000" stroke-width="2.6" stroke-linecap="butt"/>
<polygon points="455.0,535.0 468.0,530.5 468.0,539.5" fill="#000"/>
<line x1="730.6" y1="535.6" x2="790.0" y2="535.6" stroke="#000" stroke-width="2.6" stroke-linecap="butt"/>
<polygon points="797.0,535.6 784.0,531.0 784.0,540.0" fill="#000"/>
<polyline points="176.0,573.0 598.4,573.0 598.4,551.5" fill="none" stroke="#000" stroke-width="2.4" stroke-linejoin="miter" stroke-linecap="butt"/>
<circle cx="208.6" cy="573.0" r="5.2" fill="#000"/>
<polyline points="208.6,573.0 208.6,662.6 244.8,662.6" fill="none" stroke="#000" stroke-width="2.4" stroke-linejoin="miter" stroke-linecap="butt"/>
<circle cx="244.8" cy="662.6" r="5.2" fill="#000"/>
<line x1="244.8" y1="662.6" x2="268.2" y2="615.8" stroke="#000" stroke-width="2.6" stroke-linecap="butt"/>
<polygon points="260.9,630.5 260.4,638.1 255.1,635.4" fill="#000"/>
<circle cx="268.2" cy="615.8" r="5.2" fill="#000"/>
<circle cx="221.4" cy="615.8" r="5.2" fill="#000"/>
<path d="M221.4,615.8 Q244.8,606.8 268.2,615.8" fill="none" stroke="#000" stroke-width="2.2" stroke-linecap="butt" stroke-dasharray="6 4"/>
<polyline points="221.4,615.8 221.4,595.5 612.5,595.5 612.5,617.5" fill="none" stroke="#000" stroke-width="2.4" stroke-linejoin="miter" stroke-linecap="butt"/>
<circle cx="337.0" cy="595.5" r="5.2" fill="#000"/>
<circle cx="419.5" cy="595.5" r="5.2" fill="#000"/>
<circle cx="504.4" cy="595.5" r="5.2" fill="#000"/>
<line x1="337.0" y1="595.5" x2="337.0" y2="615.8" stroke="#000" stroke-width="2.4" stroke-linecap="butt"/>
<circle cx="337.0" cy="615.8" r="5.2" fill="#000"/>
<path d="M337.0,615.8 Q360.1,606.8 383.3,615.8" fill="none" stroke="#000" stroke-width="2.2" stroke-linecap="butt" stroke-dasharray="6 4"/>
<line x1="383.3" y1="615.8" x2="455.7" y2="615.8" stroke="#000" stroke-width="2.4" stroke-linecap="butt"/>
<circle cx="383.3" cy="615.8" r="5.2" fill="#000"/>
<circle cx="419.5" cy="615.8" r="5.2" fill="#000"/>
<circle cx="455.7" cy="615.8" r="5.2" fill="#000"/>
<path d="M455.7,615.8 Q480.0,607.6 504.4,617.5" fill="none" stroke="#000" stroke-width="2.2" stroke-linecap="butt" stroke-dasharray="6 4"/>
<line x1="504.4" y1="595.5" x2="504.4" y2="617.5" stroke="#000" stroke-width="2.4" stroke-linecap="butt"/>
<circle cx="504.4" cy="617.5" r="5.2" fill="#000"/>
<circle cx="563.5" cy="617.5" r="5.2" fill="#000"/>
<circle cx="612.3" cy="617.5" r="5.2" fill="#000"/>
<path d="M563.5,617.5 Q587.9,608.5 612.3,617.5" fill="none" stroke="#000" stroke-width="2.2" stroke-linecap="butt" stroke-dasharray="6 4"/>
<line x1="420.0" y1="549.0" x2="420.0" y2="595.5" stroke="#000" stroke-width="2.4" stroke-linecap="butt"/>
<line x1="383.3" y1="615.8" x2="360.5" y2="662.6" stroke="#000" stroke-width="2.6" stroke-linecap="butt"/>
<polygon points="367.6,648.0 368.0,640.4 373.4,643.0" fill="#000"/>
<circle cx="360.5" cy="662.6" r="5.2" fill="#000"/>
<line x1="360.5" y1="662.6" x2="360.5" y2="722.0" stroke="#000" stroke-width="2.4" stroke-linecap="butt"/>
<line x1="455.7" y1="615.8" x2="480.2" y2="662.6" stroke="#000" stroke-width="2.6" stroke-linecap="butt"/>
<polygon points="472.5,647.9 466.6,643.1 471.9,640.3" fill="#000"/>
<circle cx="480.2" cy="662.6" r="5.2" fill="#000"/>
<line x1="480.2" y1="662.6" x2="480.2" y2="722.0" stroke="#000" stroke-width="2.4" stroke-linecap="butt"/>
<polyline points="419.5,615.8 419.5,706.3 852.0,706.3 852.0,551.4" fill="none" stroke="#000" stroke-width="2.4" stroke-linejoin="miter" stroke-linecap="butt"/>
<line x1="563.5" y1="617.5" x2="588.0" y2="662.8" stroke="#000" stroke-width="2.6" stroke-linecap="butt"/>
<polygon points="580.4,648.7 574.4,643.9 579.7,641.1" fill="#000"/>
<circle cx="588.0" cy="662.8" r="5.2" fill="#000"/>
<line x1="588.0" y1="662.8" x2="588.0" y2="689.0" stroke="#000" stroke-width="2.4" stroke-linecap="butt"/>
<circle cx="588.0" cy="689.0" r="5.2" fill="#000"/>
<polyline points="176.0,639.0 188.3,639.0 188.3,688.5 733.0,688.5 733.0,551.4" fill="none" stroke="#000" stroke-width="2.4" stroke-linejoin="miter" stroke-linecap="butt"/>
<circle cx="852.0" cy="595.0" r="5.2" fill="#000"/>
<line x1="852.0" y1="595.0" x2="906.0" y2="595.0" stroke="#000" stroke-width="2.4" stroke-linecap="butt"/>
<text x="278.9" y="666.0" font-size="13.81" textLength="39.4" lengthAdjust="spacingAndGlyphs" fill="#000" stroke="#000" stroke-width="0.5">TURN</text>
<text x="278.9" y="687.2" font-size="13.81" textLength="35.0" lengthAdjust="spacingAndGlyphs" fill="#000" stroke="#000" stroke-width="0.5">LEFT</text>
<text x="514.8" y="666.2" font-size="13.81" textLength="38.3" lengthAdjust="spacingAndGlyphs" fill="#000" stroke="#000" stroke-width="0.5">TURN</text>
<text x="514.8" y="686.7" font-size="13.81" textLength="43.0" lengthAdjust="spacingAndGlyphs" fill="#000" stroke="#000" stroke-width="0.5">RIGHT</text>
<text x="211.8" y="716.0" font-size="13.81" textLength="94.8" lengthAdjust="spacingAndGlyphs" fill="#000" stroke="#000" stroke-width="0.5">TURN SWITCH</text>
<polyline points="105.0,570.0 172.0,570.0" fill="none" stroke="url(#sd)" stroke-width="11.8" stroke-linejoin="miter" stroke-linecap="butt"/>
<polygon points="81.2,572.0 106.0,561.2 106.0,582.9" fill="#000"/>
<polyline points="105.0,636.0 172.0,636.0" fill="none" stroke="#000" stroke-width="11.5" stroke-linejoin="miter" stroke-linecap="butt"/>
<polygon points="83.0,636.0 106.0,626.4 106.0,647.5" fill="#000"/>
<text x="111.3" y="539.3" font-size="17.44" textLength="44.8" lengthAdjust="spacingAndGlyphs" fill="#000" stroke="#000" stroke-width="0.5">.8 LT/</text>
<text x="111.3" y="560.4" font-size="17.44" textLength="30.7" lengthAdjust="spacingAndGlyphs" fill="#000" stroke="#000" stroke-width="0.5">BLU</text>
<text x="10.9" y="590.5" font-size="17.44" textLength="62.0" lengthAdjust="spacingAndGlyphs" fill="#000" stroke="#000" stroke-width="0.5">LIGHTS:</text>
<text x="10.9" y="614.2" font-size="17.44" textLength="51.0" lengthAdjust="spacingAndGlyphs" fill="#000" stroke="#000" stroke-width="0.5">TURN/</text>
<text x="10.9" y="639.1" font-size="17.44" textLength="66.5" lengthAdjust="spacingAndGlyphs" fill="#000" stroke="#000" stroke-width="0.5">HAZARD</text>
<text x="111.3" y="601.4" font-size="17.44" textLength="16.0" lengthAdjust="spacingAndGlyphs" fill="#000" stroke="#000" stroke-width="0.5">14</text>
<text x="139.4" y="591.8" font-size="17.44" textLength="13.0" lengthAdjust="spacingAndGlyphs" fill="#000" stroke="#000" stroke-width="0.5">.8</text>
<text x="135.5" y="609.7" font-size="17.44" textLength="28.0" lengthAdjust="spacingAndGlyphs" fill="#000" stroke="#000" stroke-width="0.5">DK/</text>
<text x="134.3" y="627.6" font-size="17.44" textLength="30.0" lengthAdjust="spacingAndGlyphs" fill="#000" stroke="#000" stroke-width="0.5">BLU</text>
<text x="133.6" y="669.8" font-size="17.44" textLength="16.0" lengthAdjust="spacingAndGlyphs" fill="#000" stroke="#000" stroke-width="0.5">15</text>
<polyline points="907.0,595.9 1034.0,595.9" fill="none" stroke="#000" stroke-width="13.5" stroke-linejoin="miter" stroke-linecap="butt"/>
<polyline points="907.0,595.9 1034.0,595.9" fill="none" stroke="#fff" stroke-width="8.5" stroke-linejoin="miter" stroke-linecap="butt"/>
<polyline points="1045.0,595.9 1162.0,595.9" fill="none" stroke="#000" stroke-width="13.5" stroke-linejoin="miter" stroke-linecap="butt"/>
<polyline points="1045.0,595.9 1162.0,595.9" fill="none" stroke="#fff" stroke-width="8.5" stroke-linejoin="miter" stroke-linecap="butt"/>
<path d="M1028,585 Q1039,596 1028,607" fill="none" stroke="#000" stroke-width="4.5" stroke-linecap="butt"/>
<path d="M1038,585 Q1049,596 1038,607" fill="none" stroke="#000" stroke-width="4.5" stroke-linecap="butt"/>
<path d="M1157,585 Q1168,596 1157,607" fill="none" stroke="#000" stroke-width="4.5" stroke-linecap="butt"/>
<text x="953.4" y="579.2" font-size="17.44" textLength="36.0" lengthAdjust="spacingAndGlyphs" fill="#000" stroke="#000" stroke-width="0.5">WHT</text>
<text x="1035.4" y="577.2" font-size="17.44" textLength="9.0" lengthAdjust="spacingAndGlyphs" fill="#000" stroke="#000" stroke-width="0.5">D</text>
<text x="1081.4" y="581.6" font-size="17.44" textLength="52.0" lengthAdjust="spacingAndGlyphs" fill="#000" stroke="#000" stroke-width="0.5">.8 WHT</text>
<text x="954.2" y="621.4" font-size="17.44" textLength="16.0" lengthAdjust="spacingAndGlyphs" fill="#000" stroke="#000" stroke-width="0.5">17</text>
<text x="1018.8" y="627.6" font-size="17.44" textLength="35.3" lengthAdjust="spacingAndGlyphs" fill="#000" stroke="#000" stroke-width="0.5">C104</text>
<line x1="1017.8" y1="631.4" x2="1055.1" y2="631.4" stroke="#000" stroke-width="2.5"/>
<text x="1081.4" y="622.6" font-size="17.44" textLength="16.0" lengthAdjust="spacingAndGlyphs" fill="#000" stroke="#000" stroke-width="0.5">17</text>
<text x="1116.2" y="627.6" font-size="17.44" textLength="44.7" lengthAdjust="spacingAndGlyphs" fill="#000" stroke="#000" stroke-width="0.5">(GRN)</text>
<rect x="1168.4" y="554.3" width="113.1" height="95.2" fill="none" stroke="#000" stroke-width="4.8" stroke-dasharray="15 2.6"/>
<line x1="1183.3" y1="555.0" x2="1183.3" y2="590.0" stroke="#000" stroke-width="2" stroke-linecap="butt"/>
<circle cx="1183.3" cy="576.7" r="5" fill="#000"/>
<polyline points="1173.0,589.0 1185.0,595.0 1173.0,600.0" fill="none" stroke="#000" stroke-width="2" stroke-linejoin="miter" stroke-linecap="butt"/>
<text x="1292.6" y="566.7" font-size="17.44" textLength="38.5" lengthAdjust="spacingAndGlyphs" fill="#000" stroke="#000" stroke-width="0.5">FUSE</text>
<line x1="1291.6" y1="570.5" x2="1332.1" y2="570.5" stroke="#000" stroke-width="2.5"/>
<text x="1292.6" y="590.2" font-size="17.44" textLength="52.2" lengthAdjust="spacingAndGlyphs" fill="#000" stroke="#000" stroke-width="0.5">BLOCK</text>
<line x1="1291.6" y1="595.3" x2="1345.8" y2="595.3" stroke="#000" stroke-width="2.5"/>
<text x="1169.6" y="697.2" font-size="17.44" textLength="121.8" lengthAdjust="spacingAndGlyphs" fill="#000" stroke="#000" stroke-width="0.5">FOR LOCATION</text>
<text x="1169.0" y="720.8" font-size="17.44" textLength="87.0" lengthAdjust="spacingAndGlyphs" fill="#000" stroke="#000" stroke-width="0.5">OF CAVITY</text>
<text x="1167.0" y="745.6" font-size="17.44" textLength="74.6" lengthAdjust="spacingAndGlyphs" fill="#000" stroke="#000" stroke-width="0.5">SEE FUSE</text>
<text x="1167.0" y="770.5" font-size="17.44" textLength="102.0" lengthAdjust="spacingAndGlyphs" fill="#000" stroke="#000" stroke-width="0.5">DATA PAGES</text>
<text x="17.0" y="777.4" font-size="17.44" textLength="52.8" lengthAdjust="spacingAndGlyphs" fill="#000" stroke="#000" stroke-width="0.5">GAGES</text>
<text x="17.0" y="801.3" font-size="17.44" textLength="174.0" lengthAdjust="spacingAndGlyphs" fill="#000" stroke="#000" stroke-width="0.5">(INSTRUMENT PANEL)</text>
<text x="206.2" y="777.4" font-size="17.44" textLength="69.0" lengthAdjust="spacingAndGlyphs" fill="#000" stroke="#000" stroke-width="0.5">BACK UP</text>
<text x="206.2" y="801.2" font-size="17.44" textLength="58.0" lengthAdjust="spacingAndGlyphs" fill="#000" stroke="#000" stroke-width="0.5">LIGHTS</text>
<polygon points="107.4,816.3 130.4,816.3 119.0,837.6" fill="#000"/>
<polygon points="221.6,816.3 243.7,816.3 232.6,837.6" fill="#000"/>
<polyline points="117.6,835.0 117.6,910.0" fill="none" stroke="#000" stroke-width="10.5" stroke-linejoin="miter" stroke-linecap="butt"/>
<polyline points="107.5,909.5 115.5,917.5 121.5,917.5 129.5,909.5" fill="none" stroke="#000" stroke-width="4.6" stroke-linejoin="round" stroke-linecap="round"/>
<polyline points="107.5,919.5 115.5,927.5 121.5,927.5 129.5,919.5" fill="none" stroke="#000" stroke-width="4.6" stroke-linejoin="round" stroke-linecap="round"/>
<polyline points="116.5,925.0 116.5,1178.0" fill="none" stroke="#000" stroke-width="10.5" stroke-linejoin="miter" stroke-linecap="butt"/>
<polyline points="232.0,835.0 232.0,910.0" fill="none" stroke="#000" stroke-width="11" stroke-linejoin="miter" stroke-linecap="butt"/>
<polyline points="219.5,909.5 227.5,917.5 234.5,917.5 242.5,909.5" fill="none" stroke="#000" stroke-width="4.6" stroke-linejoin="round" stroke-linecap="round"/>
<polyline points="219.5,919.5 227.5,927.5 234.5,927.5 242.5,919.5" fill="none" stroke="#000" stroke-width="4.6" stroke-linejoin="round" stroke-linecap="round"/>
<polyline points="229.5,932.0 225.0,1178.0" fill="none" stroke="#000" stroke-width="11.5" stroke-linejoin="miter" stroke-linecap="butt"/>
<text x="54.5" y="894.2" font-size="17.44" textLength="50.3" lengthAdjust="spacingAndGlyphs" fill="#000" stroke="#000" stroke-width="0.5">.8 PNK</text>
<text x="132.0" y="894.2" font-size="17.44" textLength="16.0" lengthAdjust="spacingAndGlyphs" fill="#000" stroke="#000" stroke-width="0.5">30</text>
<text x="146.6" y="869.2" font-size="17.44" textLength="72.4" lengthAdjust="spacingAndGlyphs" fill="#000" stroke="#000" stroke-width="0.5">1 LT GRN</text>
<text x="247.0" y="869.2" font-size="17.44" textLength="16.0" lengthAdjust="spacingAndGlyphs" fill="#000" stroke="#000" stroke-width="0.5">24</text>
<line x1="130.0" y1="910.8" x2="470.0" y2="910.8" stroke="#000" stroke-width="2" stroke-linecap="butt" stroke-dasharray="13 3.5"/>
<text x="52.8" y="1077.9" font-size="17.44" textLength="50.8" lengthAdjust="spacingAndGlyphs" fill="#000" stroke="#000" stroke-width="0.5">.8 PNK</text>
<text x="130.4" y="1077.9" font-size="17.44" textLength="16.0" lengthAdjust="spacingAndGlyphs" fill="#000" stroke="#000" stroke-width="0.5">30</text>
<text x="173.6" y="1077.9" font-size="17.44" textLength="39.3" lengthAdjust="spacingAndGlyphs" fill="#000" stroke="#000" stroke-width="0.5">.8 LT</text>
<text x="239.8" y="1077.9" font-size="17.44" textLength="16.0" lengthAdjust="spacingAndGlyphs" fill="#000" stroke="#000" stroke-width="0.5">24</text>
<text x="174.6" y="1101.5" font-size="17.44" textLength="33.6" lengthAdjust="spacingAndGlyphs" fill="#000" stroke="#000" stroke-width="0.5">GRN</text>
<line x1="123.0" y1="1180.5" x2="466.0" y2="1180.5" stroke="#000" stroke-width="2" stroke-linecap="butt" stroke-dasharray="13 3.5"/>
<line x1="676.0" y1="1180.5" x2="1160.0" y2="1180.5" stroke="#000" stroke-width="2" stroke-linecap="butt" stroke-dasharray="13 3.5"/>
<polyline points="105.5,1179.5 113.5,1187.5 119.5,1187.5 127.5,1179.5" fill="none" stroke="#000" stroke-width="4.6" stroke-linejoin="round" stroke-linecap="round"/>
<polyline points="105.5,1189.5 113.5,1197.5 119.5,1197.5 127.5,1189.5" fill="none" stroke="#000" stroke-width="4.6" stroke-linejoin="round" stroke-linecap="round"/>
<polyline points="114.5,1196.0 114.5,1303.0" fill="none" stroke="url(#st)" stroke-width="10.5" stroke-linejoin="miter" stroke-linecap="butt"/>
<polygon points="101.7,1302.0 125.7,1302.0 113.7,1324.0" fill="#000"/>
<polyline points="213.5,1179.5 221.5,1187.5 227.5,1187.5 235.5,1179.5" fill="none" stroke="#000" stroke-width="4.6" stroke-linejoin="round" stroke-linecap="round"/>
<polyline points="213.5,1189.5 221.5,1197.5 227.5,1197.5 235.5,1189.5" fill="none" stroke="#000" stroke-width="4.6" stroke-linejoin="round" stroke-linecap="round"/>
<polyline points="224.5,1196.0 224.5,1303.0" fill="none" stroke="url(#st)" stroke-width="12" stroke-linejoin="miter" stroke-linecap="butt"/>
<polygon points="212.5,1302.0 236.5,1302.0 224.5,1324.0" fill="#000"/>
<text x="48.7" y="1218.5" font-size="17.44" textLength="51.7" lengthAdjust="spacingAndGlyphs" fill="#000" stroke="#000" stroke-width="0.5">.8 PNK</text>
<text x="128.5" y="1218.5" font-size="17.44" textLength="16.0" lengthAdjust="spacingAndGlyphs" fill="#000" stroke="#000" stroke-width="0.5">30</text>
<text x="14.2" y="1264.9" font-size="17.44" textLength="70.0" lengthAdjust="spacingAndGlyphs" fill="#000" stroke="#000" stroke-width="0.5">WAGONS</text>
<text x="48.7" y="1289.4" font-size="17.44" textLength="51.7" lengthAdjust="spacingAndGlyphs" fill="#000" stroke="#000" stroke-width="0.5">.8 TAN</text>
<text x="128.5" y="1289.4" font-size="17.44" textLength="16.0" lengthAdjust="spacingAndGlyphs" fill="#000" stroke="#000" stroke-width="0.5">30</text>
<text x="174.2" y="1256.0" font-size="17.44" textLength="38.4" lengthAdjust="spacingAndGlyphs" fill="#000" stroke="#000" stroke-width="0.5">.8 LT</text>
<text x="237.7" y="1253.1" font-size="17.44" textLength="16.0" lengthAdjust="spacingAndGlyphs" fill="#000" stroke="#000" stroke-width="0.5">24</text>
<text x="177.2" y="1276.7" font-size="17.44" textLength="26.6" lengthAdjust="spacingAndGlyphs" fill="#000" stroke="#000" stroke-width="0.5">GRN</text>
<text x="1.5" y="1335.8" font-size="17.44" textLength="53.0" lengthAdjust="spacingAndGlyphs" fill="#000" stroke="#000" stroke-width="0.5">GAGES</text>
<text x="1.5" y="1360.9" font-size="17.44" textLength="174.0" lengthAdjust="spacingAndGlyphs" fill="#000" stroke="#000" stroke-width="0.5">(INSTRUMENT PANEL)</text>
<text x="195.0" y="1350.5" font-size="17.44" textLength="69.4" lengthAdjust="spacingAndGlyphs" fill="#000" stroke="#000" stroke-width="0.5">BACK UP</text>
<text x="195.0" y="1374.2" font-size="17.44" textLength="57.6" lengthAdjust="spacingAndGlyphs" fill="#000" stroke="#000" stroke-width="0.5">LIGHTS</text>
<text x="296.8" y="1360.9" font-size="17.44" textLength="237.8" lengthAdjust="spacingAndGlyphs" fill="#000" stroke="#000" stroke-width="0.5">LIGHTS: TURN/HAZARD/STOP</text>
<polyline points="359.3,722.0 359.3,787.0" fill="none" stroke="#000" stroke-width="10.5" stroke-linejoin="miter" stroke-linecap="butt"/>
<polyline points="347.4,785.5 355.4,793.5 361.4,793.5 369.4,785.5" fill="none" stroke="#000" stroke-width="4.6" stroke-linejoin="round" stroke-linecap="round"/>
<polyline points="347.4,795.5 355.4,803.5 361.4,803.5 369.4,795.5" fill="none" stroke="#000" stroke-width="4.6" stroke-linejoin="round" stroke-linecap="round"/>
<polyline points="359.0,802.0 358.5,856.0" fill="none" stroke="#000" stroke-width="10.5" stroke-linejoin="miter" stroke-linecap="butt"/>
<polyline points="347.0,860.5 355.0,852.5 361.0,852.5 369.0,860.5" fill="none" stroke="#000" stroke-width="4.6" stroke-linejoin="round" stroke-linecap="round"/>
<polyline points="347.0,870.5 355.0,862.5 361.0,862.5 369.0,870.5" fill="none" stroke="#000" stroke-width="4.6" stroke-linejoin="round" stroke-linecap="round"/>
<polyline points="357.5,869.0 356.5,912.0" fill="none" stroke="#000" stroke-width="10.5" stroke-linejoin="miter" stroke-linecap="butt"/>
<polyline points="345.0,909.5 353.0,917.5 359.0,917.5 367.0,909.5" fill="none" stroke="#000" stroke-width="4.6" stroke-linejoin="round" stroke-linecap="round"/>
<polyline points="345.0,919.5 353.0,927.5 359.0,927.5 367.0,919.5" fill="none" stroke="#000" stroke-width="4.6" stroke-linejoin="round" stroke-linecap="round"/>
<polyline points="355.0,925.0 352.5,1182.0" fill="none" stroke="#000" stroke-width="11" stroke-linejoin="miter" stroke-linecap="butt"/>
<polyline points="341.5,1180.5 349.5,1188.5 355.5,1188.5 363.5,1180.5" fill="none" stroke="#000" stroke-width="4.6" stroke-linejoin="round" stroke-linecap="round"/>
<polyline points="341.5,1190.5 349.5,1198.5 355.5,1198.5 363.5,1190.5" fill="none" stroke="#000" stroke-width="4.6" stroke-linejoin="round" stroke-linecap="round"/>
<polyline points="352.0,1197.0 351.0,1303.0" fill="none" stroke="#000" stroke-width="12" stroke-linejoin="miter" stroke-linecap="butt"/>
<polygon points="338.0,1302.0 363.2,1302.0 350.6,1324.0" fill="#000"/>
<polyline points="481.0,722.0 481.0,787.0" fill="none" stroke="#000" stroke-width="10.5" stroke-linejoin="miter" stroke-linecap="butt"/>
<polyline points="468.0,785.5 476.0,793.5 482.0,793.5 490.0,785.5" fill="none" stroke="#000" stroke-width="4.6" stroke-linejoin="round" stroke-linecap="round"/>
<polyline points="468.0,795.5 476.0,803.5 482.0,803.5 490.0,795.5" fill="none" stroke="#000" stroke-width="4.6" stroke-linejoin="round" stroke-linecap="round"/>
<polyline points="479.5,802.0 478.5,856.0" fill="none" stroke="#000" stroke-width="10.5" stroke-linejoin="miter" stroke-linecap="butt"/>
<polyline points="467.0,860.5 475.0,852.5 481.0,852.5 489.0,860.5" fill="none" stroke="#000" stroke-width="4.6" stroke-linejoin="round" stroke-linecap="round"/>
<polyline points="467.0,870.5 475.0,862.5 481.0,862.5 489.0,870.5" fill="none" stroke="#000" stroke-width="4.6" stroke-linejoin="round" stroke-linecap="round"/>
<polyline points="478.0,869.0 476.5,912.0" fill="none" stroke="#000" stroke-width="10.5" stroke-linejoin="miter" stroke-linecap="butt"/>
<polyline points="465.0,909.5 473.0,917.5 479.0,917.5 487.0,909.5" fill="none" stroke="#000" stroke-width="4.6" stroke-linejoin="round" stroke-linecap="round"/>
<polyline points="465.0,919.5 473.0,927.5 479.0,927.5 487.0,919.5" fill="none" stroke="#000" stroke-width="4.6" stroke-linejoin="round" stroke-linecap="round"/>
<polyline points="475.5,925.0 471.0,1182.0" fill="none" stroke="#000" stroke-width="11" stroke-linejoin="miter" stroke-linecap="butt"/>
<polyline points="460.0,1180.5 468.0,1188.5 474.0,1188.5 482.0,1180.5" fill="none" stroke="#000" stroke-width="4.6" stroke-linejoin="round" stroke-linecap="round"/>
<polyline points="460.0,1190.5 468.0,1198.5 474.0,1198.5 482.0,1190.5" fill="none" stroke="#000" stroke-width="4.6" stroke-linejoin="round" stroke-linecap="round"/>
<polyline points="470.0,1197.0 469.0,1303.0" fill="none" stroke="#000" stroke-width="12" stroke-linejoin="miter" stroke-linecap="butt"/>
<polygon points="456.2,1302.0 481.4,1302.0 468.8,1324.0" fill="#000"/>
<line x1="367.0" y1="786.5" x2="470.0" y2="786.5" stroke="#000" stroke-width="2" stroke-linecap="butt" stroke-dasharray="13 3.5"/>
<line x1="367.0" y1="870.0" x2="470.0" y2="870.0" stroke="#000" stroke-width="2" stroke-linecap="butt" stroke-dasharray="13 3.5"/>
<text x="315.0" y="746.4" font-size="17.44" textLength="30.0" lengthAdjust="spacingAndGlyphs" fill="#000" stroke="#000" stroke-width="0.5">YEL</text>
<text x="374.6" y="746.4" font-size="17.44" textLength="16.0" lengthAdjust="spacingAndGlyphs" fill="#000" stroke="#000" stroke-width="0.5">18</text>
<text x="399.3" y="761.8" font-size="17.44" textLength="63.0" lengthAdjust="spacingAndGlyphs" fill="#000" stroke="#000" stroke-width="0.5">DK GRN</text>
<text x="491.3" y="761.8" font-size="17.44" textLength="16.0" lengthAdjust="spacingAndGlyphs" fill="#000" stroke="#000" stroke-width="0.5">19</text>
<text x="451.3" y="781.2" font-size="17.44" textLength="10.0" lengthAdjust="spacingAndGlyphs" fill="#000" stroke="#000" stroke-width="0.5">N</text>
<text x="497.3" y="797.0" font-size="17.44" textLength="35.0" lengthAdjust="spacingAndGlyphs" fill="#000" stroke="#000" stroke-width="0.5">C104</text>
<line x1="496.3" y1="801.8" x2="533.3" y2="801.8" stroke="#000" stroke-width="2.5"/>
<text x="300.4" y="832.0" font-size="17.44" textLength="45.0" lengthAdjust="spacingAndGlyphs" fill="#000" stroke="#000" stroke-width="0.5">1 YEL</text>
<text x="374.6" y="832.0" font-size="17.44" textLength="16.0" lengthAdjust="spacingAndGlyphs" fill="#000" stroke="#000" stroke-width="0.5">18</text>
<text x="427.4" y="821.7" font-size="17.44" textLength="36.0" lengthAdjust="spacingAndGlyphs" fill="#000" stroke="#000" stroke-width="0.5">1 DK</text>
<text x="491.3" y="821.7" font-size="17.44" textLength="16.0" lengthAdjust="spacingAndGlyphs" fill="#000" stroke="#000" stroke-width="0.5">19</text>
<text x="427.4" y="845.6" font-size="17.44" textLength="33.0" lengthAdjust="spacingAndGlyphs" fill="#000" stroke="#000" stroke-width="0.5">GRN</text>
<text x="330.3" y="865.2" font-size="17.44" textLength="9.0" lengthAdjust="spacingAndGlyphs" fill="#000" stroke="#000" stroke-width="0.5">D</text>
<text x="451.3" y="865.2" font-size="17.44" textLength="9.0" lengthAdjust="spacingAndGlyphs" fill="#000" stroke="#000" stroke-width="0.5">E</text>
<text x="493.9" y="867.8" font-size="17.44" textLength="35.0" lengthAdjust="spacingAndGlyphs" fill="#000" stroke="#000" stroke-width="0.5">C209</text>
<line x1="492.9" y1="873.4" x2="529.9" y2="873.4" stroke="#000" stroke-width="2.5"/>
<text x="300.4" y="885.7" font-size="17.44" textLength="45.0" lengthAdjust="spacingAndGlyphs" fill="#000" stroke="#000" stroke-width="0.5">1 YEL</text>
<text x="374.6" y="885.7" font-size="17.44" textLength="16.0" lengthAdjust="spacingAndGlyphs" fill="#000" stroke="#000" stroke-width="0.5">18</text>
<text x="387.4" y="905.2" font-size="17.44" textLength="76.0" lengthAdjust="spacingAndGlyphs" fill="#000" stroke="#000" stroke-width="0.5">1 DK GRN</text>
<text x="491.3" y="905.2" font-size="17.44" textLength="16.0" lengthAdjust="spacingAndGlyphs" fill="#000" stroke="#000" stroke-width="0.5">19</text>
<text x="495.6" y="927.4" font-size="17.44" textLength="35.0" lengthAdjust="spacingAndGlyphs" fill="#000" stroke="#000" stroke-width="0.5">C214</text>
<line x1="494.6" y1="932.7" x2="531.6" y2="932.7" stroke="#000" stroke-width="2.5"/>
<text x="297.9" y="947.0" font-size="17.44" textLength="45.0" lengthAdjust="spacingAndGlyphs" fill="#000" stroke="#000" stroke-width="0.5">1 YEL</text>
<text x="371.2" y="947.0" font-size="17.44" textLength="16.0" lengthAdjust="spacingAndGlyphs" fill="#000" stroke="#000" stroke-width="0.5">18</text>
<text x="383.4" y="978.2" font-size="17.44" textLength="76.0" lengthAdjust="spacingAndGlyphs" fill="#000" stroke="#000" stroke-width="0.5">1 DK GRN</text>
<text x="488.2" y="978.2" font-size="17.44" textLength="16.0" lengthAdjust="spacingAndGlyphs" fill="#000" stroke="#000" stroke-width="0.5">19</text>
<polyline points="349.5,997.6 788.0,997.6 788.0,1164.5" fill="none" stroke="#000" stroke-width="12" stroke-linejoin="miter" stroke-linecap="butt"/>
<circle cx="788.0" cy="1164.5" r="6" fill="#000"/>
<text x="365.6" y="1018.0" font-size="17.44" textLength="36.0" lengthAdjust="spacingAndGlyphs" fill="#000" stroke="#000" stroke-width="0.5">S809</text>
<line x1="364.6" y1="1021.2" x2="402.6" y2="1021.2" stroke="#000" stroke-width="2.5"/>
<text x="296.2" y="1077.1" font-size="17.44" textLength="44.0" lengthAdjust="spacingAndGlyphs" fill="#000" stroke="#000" stroke-width="0.5">1 YEL</text>
<text x="370.0" y="1077.1" font-size="17.44" textLength="16.0" lengthAdjust="spacingAndGlyphs" fill="#000" stroke="#000" stroke-width="0.5">18</text>
<circle cx="472.0" cy="1093.6" r="8.5" fill="#000"/>
<polyline points="472.0,1094.0 667.0,1094.0 667.0,1173.0" fill="none" stroke="#000" stroke-width="11" stroke-linejoin="miter" stroke-linecap="butt"/>
<text x="562.0" y="1081.5" font-size="17.44" textLength="76.0" lengthAdjust="spacingAndGlyphs" fill="#000" stroke="#000" stroke-width="0.5">1 DK GRN</text>
<text x="488.2" y="1119.9" font-size="17.44" textLength="36.5" lengthAdjust="spacingAndGlyphs" fill="#000" stroke="#000" stroke-width="0.5">S810</text>
<line x1="487.2" y1="1124.6" x2="525.7" y2="1124.6" stroke="#000" stroke-width="2.5"/>
<text x="562.0" y="1121.9" font-size="17.44" textLength="16.0" lengthAdjust="spacingAndGlyphs" fill="#000" stroke="#000" stroke-width="0.5">19</text>
<text x="383.4" y="1139.7" font-size="17.44" textLength="76.0" lengthAdjust="spacingAndGlyphs" fill="#000" stroke="#000" stroke-width="0.5">1 DK GRN</text>
<text x="733.3" y="1128.7" font-size="17.44" textLength="44.3" lengthAdjust="spacingAndGlyphs" fill="#000" stroke="#000" stroke-width="0.5">1 YEL</text>
<text x="805.7" y="1128.7" font-size="17.44" textLength="16.0" lengthAdjust="spacingAndGlyphs" fill="#000" stroke="#000" stroke-width="0.5">18</text>
<text x="491.7" y="1194.0" font-size="17.44" textLength="37.0" lengthAdjust="spacingAndGlyphs" fill="#000" stroke="#000" stroke-width="0.5">C806</text>
<line x1="490.7" y1="1197.8" x2="529.7" y2="1197.8" stroke="#000" stroke-width="2.5"/>
<text x="379.5" y="1236.2" font-size="17.44" textLength="76.8" lengthAdjust="spacingAndGlyphs" fill="#000" stroke="#000" stroke-width="0.5">1 DK GRN</text>
<text x="484.4" y="1236.2" font-size="17.44" textLength="16.0" lengthAdjust="spacingAndGlyphs" fill="#000" stroke="#000" stroke-width="0.5">19</text>
<text x="292.4" y="1290.0" font-size="17.44" textLength="44.3" lengthAdjust="spacingAndGlyphs" fill="#000" stroke="#000" stroke-width="0.5">1 YEL</text>
<text x="364.7" y="1290.0" font-size="17.44" textLength="16.0" lengthAdjust="spacingAndGlyphs" fill="#000" stroke="#000" stroke-width="0.5">18</text>
<polyline points="654.5,1179.5 662.5,1171.5 669.5,1171.5 677.5,1179.5" fill="none" stroke="#000" stroke-width="4.6" stroke-linejoin="round" stroke-linecap="round"/>
<polyline points="654.5,1189.5 662.5,1181.5 669.5,1181.5 677.5,1189.5" fill="none" stroke="#000" stroke-width="4.6" stroke-linejoin="round" stroke-linecap="round"/>
<polyline points="664.7,1188.0 664.7,1244.0" fill="none" stroke="#000" stroke-width="12" stroke-linejoin="miter" stroke-linecap="butt"/>
<polygon points="651.9,1243.0 675.3,1243.0 663.6,1264.0" fill="#000"/>
<text x="641.0" y="1170.0" font-size="17.44" textLength="9.0" lengthAdjust="spacingAndGlyphs" fill="#000" stroke="#000" stroke-width="0.5">D</text>
<text x="616.6" y="1203.2" font-size="17.44" textLength="21.0" lengthAdjust="spacingAndGlyphs" fill="#000" stroke="#000" stroke-width="0.5">DK</text>
<text x="616.6" y="1227.6" font-size="17.44" textLength="33.0" lengthAdjust="spacingAndGlyphs" fill="#000" stroke="#000" stroke-width="0.5">GRN</text>
<text x="677.5" y="1227.6" font-size="17.44" textLength="16.0" lengthAdjust="spacingAndGlyphs" fill="#000" stroke="#000" stroke-width="0.5">19</text>
<polyline points="777.5,1179.5 785.5,1171.5 792.5,1171.5 800.5,1179.5" fill="none" stroke="#000" stroke-width="4.6" stroke-linejoin="round" stroke-linecap="round"/>
<polyline points="777.5,1189.5 785.5,1181.5 792.5,1181.5 800.5,1189.5" fill="none" stroke="#000" stroke-width="4.6" stroke-linejoin="round" stroke-linecap="round"/>
<polyline points="792.0,1188.0 792.0,1244.0" fill="none" stroke="#000" stroke-width="12" stroke-linejoin="miter" stroke-linecap="butt"/>
<polygon points="779.4,1243.0 802.6,1243.0 791.0,1266.0" fill="#000"/>
<text x="769.4" y="1167.8" font-size="17.44" textLength="9.0" lengthAdjust="spacingAndGlyphs" fill="#000" stroke="#000" stroke-width="0.5">C</text>
<text x="747.3" y="1227.6" font-size="17.44" textLength="30.0" lengthAdjust="spacingAndGlyphs" fill="#000" stroke="#000" stroke-width="0.5">YEL</text>
<text x="804.9" y="1227.6" font-size="17.44" textLength="16.0" lengthAdjust="spacingAndGlyphs" fill="#000" stroke="#000" stroke-width="0.5">18</text>
<polyline points="918.0,1172.0 918.0,997.0 964.0,997.0 964.0,1092.0" fill="none" stroke="#000" stroke-width="14" stroke-linejoin="miter" stroke-linecap="butt"/>
<polyline points="918.0,1172.0 918.0,997.0 964.0,997.0 964.0,1092.0" fill="none" stroke="#fff" stroke-width="9" stroke-linejoin="miter" stroke-linecap="butt"/>
<circle cx="961.4" cy="1100.5" r="9" fill="#000"/>
<line x1="946.6" y1="1110.0" x2="974.9" y2="1110.0" stroke="#000" stroke-width="2.5" stroke-linecap="butt"/>
<line x1="952.0" y1="1116.2" x2="970.0" y2="1116.2" stroke="#000" stroke-width="2.5" stroke-linecap="butt"/>
<line x1="955.0" y1="1122.0" x2="966.0" y2="1122.0" stroke="#000" stroke-width="2.5" stroke-linecap="butt"/>
<text x="980.3" y="1107.7" font-size="17.44" textLength="37.8" lengthAdjust="spacingAndGlyphs" fill="#000" stroke="#000" stroke-width="0.5">G803</text>
<line x1="979.3" y1="1110.8" x2="1019.1" y2="1110.8" stroke="#000" stroke-width="2.5"/>
<text x="853.0" y="1063.4" font-size="17.44" textLength="47.7" lengthAdjust="spacingAndGlyphs" fill="#000" stroke="#000" stroke-width="0.5">2 WHT</text>
<text x="929.0" y="1063.4" font-size="17.44" textLength="16.0" lengthAdjust="spacingAndGlyphs" fill="#000" stroke="#000" stroke-width="0.5">22</text>
<polyline points="905.5,1180.5 913.5,1172.5 920.5,1172.5 928.5,1180.5" fill="none" stroke="#000" stroke-width="4.6" stroke-linejoin="round" stroke-linecap="round"/>
<polyline points="905.5,1190.5 913.5,1182.5 920.5,1182.5 928.5,1190.5" fill="none" stroke="#000" stroke-width="4.6" stroke-linejoin="round" stroke-linecap="round"/>
<polyline points="917.0,1190.0 917.0,1244.0" fill="none" stroke="#000" stroke-width="14" stroke-linejoin="miter" stroke-linecap="butt"/>
<polyline points="917.0,1190.0 917.0,1244.0" fill="none" stroke="#fff" stroke-width="8" stroke-linejoin="miter" stroke-linecap="butt"/>
<polygon points="904.5,1243.0 927.9,1243.0 916.2,1265.0" fill="#000"/>
<text x="886.8" y="1170.7" font-size="17.44" textLength="10.0" lengthAdjust="spacingAndGlyphs" fill="#000" stroke="#000" stroke-width="0.5">A</text>
<text x="866.9" y="1227.6" font-size="17.44" textLength="36.0" lengthAdjust="spacingAndGlyphs" fill="#000" stroke="#000" stroke-width="0.5">WHT</text>
<text x="928.9" y="1227.6" font-size="17.44" textLength="16.0" lengthAdjust="spacingAndGlyphs" fill="#000" stroke="#000" stroke-width="0.5">22</text>
<text x="996.5" y="853.6" font-size="17.44" textLength="93.0" lengthAdjust="spacingAndGlyphs" fill="#000" stroke="#000" stroke-width="0.5">AUXILIARY</text>
<line x1="995.5" y1="857.8" x2="1090.5" y2="857.8" stroke="#000" stroke-width="2.5"/>
<text x="996.5" y="877.3" font-size="17.44" textLength="101.0" lengthAdjust="spacingAndGlyphs" fill="#000" stroke="#000" stroke-width="0.5">CONNECTOR</text>
<line x1="995.5" y1="881.5" x2="1098.5" y2="881.5" stroke="#000" stroke-width="2.5"/>
<text x="996.5" y="901.6" font-size="17.44" textLength="91.7" lengthAdjust="spacingAndGlyphs" fill="#000" stroke="#000" stroke-width="0.5">(NOT USED)</text>
<polyline points="1034.0,912.0 1041.0,919.0 1051.0,919.0 1058.0,912.0" fill="none" stroke="#000" stroke-width="4.6" stroke-linejoin="round" stroke-linecap="round"/>
<polyline points="1047.0,918.0 1044.0,1174.0" fill="none" stroke="#000" stroke-width="12" stroke-linejoin="miter" stroke-linecap="butt"/>
<polyline points="1032.5,1180.5 1040.5,1172.5 1047.5,1172.5 1055.5,1180.5" fill="none" stroke="#000" stroke-width="4.6" stroke-linejoin="round" stroke-linecap="round"/>
<polyline points="1032.5,1190.5 1040.5,1182.5 1047.5,1182.5 1055.5,1190.5" fill="none" stroke="#000" stroke-width="4.6" stroke-linejoin="round" stroke-linecap="round"/>
<polyline points="1043.0,1189.0 1043.0,1246.0" fill="none" stroke="#000" stroke-width="11" stroke-linejoin="miter" stroke-linecap="butt"/>
<polygon points="1030.0,1245.0 1053.6,1245.0 1041.8,1266.0" fill="#000"/>
<text x="958.7" y="956.1" font-size="17.44" textLength="75.5" lengthAdjust="spacingAndGlyphs" fill="#000" stroke="#000" stroke-width="0.5">2 DK BLU</text>
<text x="1060.7" y="956.1" font-size="17.44" textLength="16.0" lengthAdjust="spacingAndGlyphs" fill="#000" stroke="#000" stroke-width="0.5">47</text>
<text x="1020.7" y="1171.2" font-size="17.44" textLength="9.0" lengthAdjust="spacingAndGlyphs" fill="#000" stroke="#000" stroke-width="0.5">E</text>
<text x="998.2" y="1209.4" font-size="17.44" textLength="21.0" lengthAdjust="spacingAndGlyphs" fill="#000" stroke="#000" stroke-width="0.5">DK</text>
<text x="998.2" y="1233.2" font-size="17.44" textLength="30.0" lengthAdjust="spacingAndGlyphs" fill="#000" stroke="#000" stroke-width="0.5">BLU</text>
<text x="1055.0" y="1233.2" font-size="17.44" textLength="16.0" lengthAdjust="spacingAndGlyphs" fill="#000" stroke="#000" stroke-width="0.5">47</text>
<polyline points="1170.0,1174.0 1170.0,1098.7 1379.0,1098.7 1414.0,1173.0" fill="none" stroke="#000" stroke-width="13" stroke-linejoin="miter" stroke-linecap="butt"/>
<polyline points="1157.5,1180.5 1165.5,1172.5 1172.5,1172.5 1180.5,1180.5" fill="none" stroke="#000" stroke-width="4.6" stroke-linejoin="round" stroke-linecap="round"/>
<polyline points="1157.5,1190.5 1165.5,1182.5 1172.5,1182.5 1180.5,1190.5" fill="none" stroke="#000" stroke-width="4.6" stroke-linejoin="round" stroke-linecap="round"/>
<polyline points="1169.0,1189.0 1169.0,1246.0" fill="none" stroke="#000" stroke-width="12" stroke-linejoin="miter" stroke-linecap="butt"/>
<polygon points="1156.4,1245.0 1180.0,1245.0 1168.2,1266.0" fill="#000"/>
<text x="1144.6" y="1172.5" font-size="17.44" textLength="9.0" lengthAdjust="spacingAndGlyphs" fill="#000" stroke="#000" stroke-width="0.5">B</text>
<text x="1124.8" y="1229.2" font-size="17.44" textLength="30.0" lengthAdjust="spacingAndGlyphs" fill="#000" stroke="#000" stroke-width="0.5">BRN</text>
<text x="1184.2" y="1229.2" font-size="17.44" textLength="8.0" lengthAdjust="spacingAndGlyphs" fill="#000" stroke="#000" stroke-width="0.5">9</text>
<text x="1246.1" y="1085.5" font-size="17.44" textLength="51.4" lengthAdjust="spacingAndGlyphs" fill="#000" stroke="#000" stroke-width="0.5">.8 BRN</text>
<text x="1246.1" y="1126.4" font-size="17.44" textLength="8.0" lengthAdjust="spacingAndGlyphs" fill="#000" stroke="#000" stroke-width="0.5">9</text>
<text x="1198.7" y="1179.1" font-size="17.44" textLength="72.5" lengthAdjust="spacingAndGlyphs" fill="#000" stroke="#000" stroke-width="0.5">TRAILER</text>
<line x1="1197.7" y1="1183.2" x2="1272.2" y2="1183.2" stroke="#000" stroke-width="2.5"/>
<text x="1198.7" y="1202.8" font-size="17.44" textLength="100.2" lengthAdjust="spacingAndGlyphs" fill="#000" stroke="#000" stroke-width="0.5">CONNECTOR</text>
<line x1="1197.7" y1="1206.9" x2="1299.9" y2="1206.9" stroke="#000" stroke-width="2.5"/>
<polyline points="1406.5,1177.0 1414.5,1185.0 1420.5,1185.0 1428.5,1177.0" fill="none" stroke="#000" stroke-width="4.6" stroke-linejoin="round" stroke-linecap="round"/>
<polyline points="1405.0,1187.0 1413.0,1195.0 1419.0,1195.0 1427.0,1187.0" fill="none" stroke="#000" stroke-width="4.6" stroke-linejoin="round" stroke-linecap="round"/>
<polyline points="1415.0,1193.0 1413.5,1305.0" fill="none" stroke="#000" stroke-width="12" stroke-linejoin="miter" stroke-linecap="butt"/>
<polygon points="1400.4,1304.5 1425.6,1304.5 1413.0,1325.6" fill="#000"/>
<text x="1432.0" y="1189.7" font-size="17.44" textLength="36.0" lengthAdjust="spacingAndGlyphs" fill="#000" stroke="#000" stroke-width="0.5">C806</text>
<line x1="1431.0" y1="1194.0" x2="1469.0" y2="1194.0" stroke="#000" stroke-width="2.5"/>
<text x="1347.7" y="1262.2" font-size="17.44" textLength="50.0" lengthAdjust="spacingAndGlyphs" fill="#000" stroke="#000" stroke-width="0.5">.8 BRN</text>
<text x="1425.5" y="1262.2" font-size="17.44" textLength="8.0" lengthAdjust="spacingAndGlyphs" fill="#000" stroke="#000" stroke-width="0.5">9</text>
<text x="1247.4" y="1359.7" font-size="17.44" textLength="370.0" lengthAdjust="spacingAndGlyphs" fill="#000" stroke="#000" stroke-width="0.5">LIGHTS: TAIL/REAR MARKER/LICENSE/OPERA</text>
<text x="662.0" y="1291.9" font-size="17.44" textLength="128.5" lengthAdjust="spacingAndGlyphs" fill="#000" stroke="#000" stroke-width="0.5">TRAILER TURN/</text>
<text x="662.0" y="1315.6" font-size="17.44" textLength="115.2" lengthAdjust="spacingAndGlyphs" fill="#000" stroke="#000" stroke-width="0.5">HAZARD/STOP</text>
<text x="662.0" y="1339.5" font-size="17.44" textLength="58.7" lengthAdjust="spacingAndGlyphs" fill="#000" stroke="#000" stroke-width="0.5">LIGHTS</text>
<text x="878.0" y="1291.9" font-size="17.44" textLength="72.0" lengthAdjust="spacingAndGlyphs" fill="#000" stroke="#000" stroke-width="0.5">TRAILER</text>
<text x="878.0" y="1315.6" font-size="17.44" textLength="69.8" lengthAdjust="spacingAndGlyphs" fill="#000" stroke="#000" stroke-width="0.5">GROUND</text>
<text x="987.7" y="1293.8" font-size="17.44" textLength="71.2" lengthAdjust="spacingAndGlyphs" fill="#000" stroke="#000" stroke-width="0.5">TRAILER</text>
<text x="987.7" y="1317.6" font-size="17.44" textLength="92.3" lengthAdjust="spacingAndGlyphs" fill="#000" stroke="#000" stroke-width="0.5">AUXILIARY</text>
<text x="987.7" y="1341.3" font-size="17.44" textLength="73.8" lengthAdjust="spacingAndGlyphs" fill="#000" stroke="#000" stroke-width="0.5">CIRCUITS</text>
<text x="1128.8" y="1293.8" font-size="17.44" textLength="71.2" lengthAdjust="spacingAndGlyphs" fill="#000" stroke="#000" stroke-width="0.5">TRAILER</text>
<text x="1128.8" y="1317.6" font-size="17.44" textLength="89.7" lengthAdjust="spacingAndGlyphs" fill="#000" stroke="#000" stroke-width="0.5">TAIL/REAR</text>
<text x="1128.8" y="1342.6" font-size="17.44" textLength="76.5" lengthAdjust="spacingAndGlyphs" fill="#000" stroke="#000" stroke-width="0.5">MARKER/</text>
<text x="1128.8" y="1366.3" font-size="17.44" textLength="67.2" lengthAdjust="spacingAndGlyphs" fill="#000" stroke="#000" stroke-width="0.5">LICENSE</text>
<text x="1128.8" y="1390.1" font-size="17.44" textLength="58.0" lengthAdjust="spacingAndGlyphs" fill="#000" stroke="#000" stroke-width="0.5">LIGHTS</text>
<text x="1496.9" y="912.6" font-size="15.99" textLength="63.0" lengthAdjust="spacingAndGlyphs" fill="#000" stroke="#000" stroke-width="0.5">TRAILER</text>
<text x="1496.9" y="933.1" font-size="15.99" textLength="86.5" lengthAdjust="spacingAndGlyphs" fill="#000" stroke="#000" stroke-width="0.5">CONNECTOR</text>
<text x="1496.9" y="953.6" font-size="15.99" textLength="70.0" lengthAdjust="spacingAndGlyphs" fill="#000" stroke="#000" stroke-width="0.5">END VIEW</text>
<rect rx="19.5" ry="19.5" x="1597.3" y="845.5" width="39.5" height="152.0" fill="none" stroke="#000" stroke-width="3.2"/>
<line x1="1597.0" y1="878.3" x2="1638.0" y2="878.3" stroke="#000" stroke-width="3.4" stroke-linecap="butt"/>
<circle cx="1617.5" cy="861.7" r="11.5" fill="none" stroke="#000" stroke-width="2.6"/>
<circle cx="1617.5" cy="861.7" r="7" fill="none" stroke="#000" stroke-width="2"/>
<rect x="1603.2" y="883.8" width="28.6" height="16.4" rx="8" ry="8" fill="none" stroke="#000" stroke-width="3.2"/>
<rect x="1603.2" y="913.8" width="28.6" height="16.4" rx="8" ry="8" fill="none" stroke="#000" stroke-width="3.2"/>
<rect x="1603.2" y="943.8" width="28.6" height="16.4" rx="8" ry="8" fill="none" stroke="#000" stroke-width="3.2"/>
<rect x="1603.2" y="973.8" width="28.6" height="16.4" rx="8" ry="8" fill="none" stroke="#000" stroke-width="3.2"/>
<text x="1653.3" y="869.2" font-size="15.99" textLength="8.3" lengthAdjust="spacingAndGlyphs" fill="#000" stroke="#000" stroke-width="0.5">A</text>
<text x="1653.3" y="898.3" font-size="15.99" textLength="8.0" lengthAdjust="spacingAndGlyphs" fill="#000" stroke="#000" stroke-width="0.5">B</text>
<text x="1653.3" y="928.3" font-size="15.99" textLength="8.0" lengthAdjust="spacingAndGlyphs" fill="#000" stroke="#000" stroke-width="0.5">C</text>
<text x="1653.3" y="958.3" font-size="15.99" textLength="8.3" lengthAdjust="spacingAndGlyphs" fill="#000" stroke="#000" stroke-width="0.5">D</text>
<text x="1653.3" y="987.5" font-size="15.99" textLength="7.5" lengthAdjust="spacingAndGlyphs" fill="#000" stroke="#000" stroke-width="0.5">E</text>
<polyline points="1740.0,879.2 1706.0,879.2 1706.0,1000.7 1756.5,1000.7" fill="none" stroke="#000" stroke-width="2.8" stroke-linejoin="miter" stroke-linecap="butt"/>
<polyline points="1740.0,873.5 1740.0,847.0 1820.0,847.0" fill="none" stroke="#000" stroke-width="2.8" stroke-linejoin="miter" stroke-linecap="butt"/>
<line x1="1756.5" y1="847.0" x2="1756.5" y2="1001.0" stroke="#000" stroke-width="2.8" stroke-linecap="butt"/>
<line x1="1763.8" y1="849.0" x2="1763.8" y2="1001.0" stroke="#000" stroke-width="2.8" stroke-linecap="butt"/>
<polyline points="1756.5,1001.0 1763.8,1001.0 1764.5,1002.5 1820.0,1002.5 1820.0,847.0" fill="none" stroke="#000" stroke-width="2.8" stroke-linejoin="miter" stroke-linecap="butt"/>
<polyline points="1740.0,873.5 1729.0,873.5 1729.0,850.5 1740.0,850.5" fill="none" stroke="#000" stroke-width="2.8" stroke-linejoin="miter" stroke-linecap="butt"/>
<polyline points="1729.0,856.5 1716.0,856.5 1712.0,858.5" fill="none" stroke="#000" stroke-width="2.8" stroke-linejoin="miter" stroke-linecap="butt"/>
<polyline points="1729.0,867.5 1716.0,867.5 1712.0,866.0" fill="none" stroke="#000" stroke-width="2.8" stroke-linejoin="miter" stroke-linecap="butt"/>
<path d="M1710,854.5 Q1697,854.5 1697,861.5 Q1697,868.5 1710,868.5" fill="none" stroke="#000" stroke-width="2.8" stroke-linecap="butt"/>
<line x1="1709.0" y1="840.0" x2="1709.0" y2="873.5" stroke="#000" stroke-width="2" stroke-linecap="butt"/>
<polyline points="1820.0,879.2 1846.2,879.2 1875.6,908.6 1894.0,908.6" fill="none" stroke="#000" stroke-width="2.8" stroke-linejoin="miter" stroke-linecap="butt"/>
<polyline points="1820.0,968.0 1843.0,968.0 1873.7,937.4 1894.0,937.4" fill="none" stroke="#000" stroke-width="2.8" stroke-linejoin="miter" stroke-linecap="butt"/>
<polyline points="1820.0,885.0 1844.3,885.0 1844.3,961.0 1820.0,961.0" fill="none" stroke="#000" stroke-width="2.8" stroke-linejoin="miter" stroke-linecap="butt" stroke-dasharray="8 4"/>
<line x1="1745.2" y1="923.4" x2="1859.7" y2="923.4" stroke="#000" stroke-width="3" stroke-linecap="butt" stroke-dasharray="20 5"/>
</svg>
</body></html>
